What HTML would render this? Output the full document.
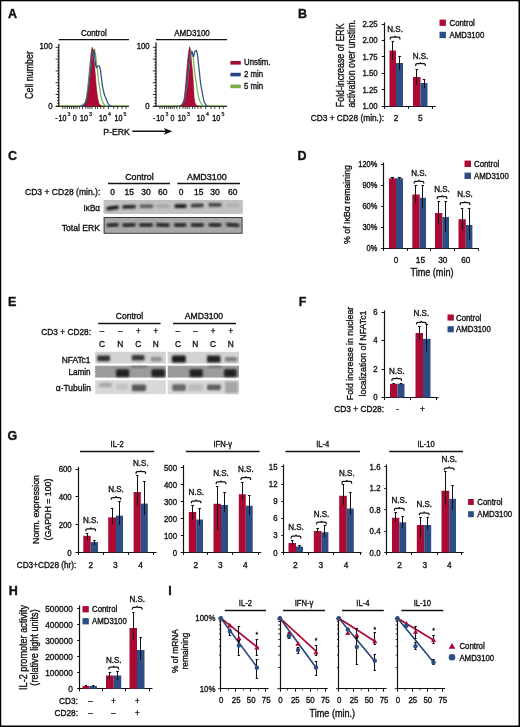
<!DOCTYPE html>
<html><head><meta charset="utf-8"><style>
html,body{margin:0;padding:0;background:#fff;}
svg{display:block;will-change:transform;font-family:"Liberation Sans",sans-serif;}
</style></head><body>
<svg width="520" height="727" viewBox="0 0 520 727">
<rect width="520" height="727" fill="#fff"/>
<rect x="0" y="0" width="520" height="1.3" fill="#000"/>
<rect x="0" y="0" width="1.25" height="727" fill="#000"/>
<rect x="518.5" y="0" width="1.5" height="727" fill="#000"/>
<rect x="0" y="725.5" width="520" height="1.5" fill="#000"/>
<text x="0" y="0" font-size="12.50" text-anchor="start" font-weight="bold" fill="#111" stroke="#111" stroke-width="0.36" transform="translate(8.00 18.20)">A</text>
<text x="0" y="0" font-size="9.02" text-anchor="middle" font-weight="normal" fill="#111" stroke="#111" stroke-width="0.36" transform="translate(93.80 35.50) scale(0.89 1)">Control</text>
<line x1="58.80" y1="39.6" x2="129.00" y2="39.6" stroke="#111" stroke-width="1.3"/>
<line x1="58.80" y1="44" x2="58.80" y2="106.89999999999999" stroke="#111" stroke-width="1.2"/>
<line x1="55.60" y1="106.30" x2="58.80" y2="106.30" stroke="#111" stroke-width="0.9"/>
<line x1="57.10" y1="103.35" x2="58.80" y2="103.35" stroke="#111" stroke-width="0.9"/>
<line x1="57.10" y1="100.40" x2="58.80" y2="100.40" stroke="#111" stroke-width="0.9"/>
<line x1="57.10" y1="97.45" x2="58.80" y2="97.45" stroke="#111" stroke-width="0.9"/>
<line x1="55.60" y1="94.50" x2="58.80" y2="94.50" stroke="#111" stroke-width="0.9"/>
<line x1="57.10" y1="91.55" x2="58.80" y2="91.55" stroke="#111" stroke-width="0.9"/>
<line x1="57.10" y1="88.60" x2="58.80" y2="88.60" stroke="#111" stroke-width="0.9"/>
<line x1="57.10" y1="85.65" x2="58.80" y2="85.65" stroke="#111" stroke-width="0.9"/>
<line x1="55.60" y1="82.70" x2="58.80" y2="82.70" stroke="#111" stroke-width="0.9"/>
<line x1="57.10" y1="79.75" x2="58.80" y2="79.75" stroke="#111" stroke-width="0.9"/>
<line x1="57.10" y1="76.80" x2="58.80" y2="76.80" stroke="#111" stroke-width="0.9"/>
<line x1="57.10" y1="73.85" x2="58.80" y2="73.85" stroke="#111" stroke-width="0.9"/>
<line x1="55.60" y1="70.90" x2="58.80" y2="70.90" stroke="#111" stroke-width="0.9"/>
<line x1="57.10" y1="67.95" x2="58.80" y2="67.95" stroke="#111" stroke-width="0.9"/>
<line x1="57.10" y1="65.00" x2="58.80" y2="65.00" stroke="#111" stroke-width="0.9"/>
<line x1="57.10" y1="62.05" x2="58.80" y2="62.05" stroke="#111" stroke-width="0.9"/>
<line x1="55.60" y1="59.10" x2="58.80" y2="59.10" stroke="#111" stroke-width="0.9"/>
<line x1="57.10" y1="56.15" x2="58.80" y2="56.15" stroke="#111" stroke-width="0.9"/>
<line x1="57.10" y1="53.20" x2="58.80" y2="53.20" stroke="#111" stroke-width="0.9"/>
<line x1="57.10" y1="50.25" x2="58.80" y2="50.25" stroke="#111" stroke-width="0.9"/>
<line x1="55.60" y1="47.30" x2="58.80" y2="47.30" stroke="#111" stroke-width="0.9"/>
<text x="0" y="0" font-size="8.80" text-anchor="end" font-weight="normal" fill="#111" stroke="#111" stroke-width="0.36" transform="translate(52.50 49.40) scale(0.89 1)">100</text>
<text x="0" y="0" font-size="8.80" text-anchor="end" font-weight="normal" fill="#111" stroke="#111" stroke-width="0.36" transform="translate(52.50 108.60) scale(0.89 1)">0</text>
<line x1="55.80" y1="106.3" x2="129.00" y2="106.3" stroke="#222" stroke-width="1.2"/>
<line x1="60" y1="105.7" x2="129" y2="105.7" stroke="#7bb54a" stroke-width="0.9"/><path d="M80.00,106.30 L83.00,105.80 L85.00,104.00 L86.20,100.00 L87.30,92.00 L88.50,80.00 L89.70,67.00 L90.80,56.00 L91.60,50.00 L92.30,47.30 L93.00,49.50 L93.60,55.00 L94.40,64.00 L95.30,75.00 L96.20,86.00 L97.20,95.00 L98.00,100.00 L99.00,103.50 L100.50,105.50 L102.50,106.30 Z" fill="#ac0a34"/><path d="M80.00,106.30 L83.00,105.80 L85.00,104.00 L86.20,100.00 L87.30,92.00 L88.50,80.00 L89.70,67.00 L90.80,56.00 L91.60,50.00 L92.30,47.30 L93.00,49.50 L93.60,55.00 L94.40,64.00 L95.30,75.00 L96.20,86.00 L97.20,95.00 L98.00,100.00 L99.00,103.50 L100.50,105.50 L102.50,106.30" fill="none" stroke="#8a0a26" stroke-width="0.6"/><path d="M79.00,106.30 L82.00,105.50 L85.00,103.00 L86.50,98.00 L88.00,88.00 L89.50,76.00 L91.00,64.00 L92.50,55.00 L93.60,50.50 L94.60,49.50 L95.50,54.00 L96.40,62.00 L97.40,70.00 L98.40,80.00 L99.30,86.00 L99.80,88.70 L100.80,95.00 L102.00,100.50 L103.00,102.70 L104.50,105.00 L107.00,106.30" fill="none" stroke="#7bb54a" stroke-width="1.25"/><path d="M80.00,106.30 L83.00,105.50 L85.50,103.00 L87.00,98.00 L88.50,88.00 L90.00,76.00 L91.30,64.00 L92.50,55.00 L93.30,51.00 L93.80,50.40 L94.40,53.00 L95.00,59.00 L95.60,65.00 L96.30,67.50 L97.20,66.50 L98.30,65.80 L99.30,66.00 L100.20,69.00 L101.00,74.00 L101.60,79.40 L102.30,85.00 L103.00,88.70 L104.00,93.00 L105.00,96.50 L105.80,98.00 L107.50,102.50 L109.60,105.50 L112.00,106.30" fill="none" stroke="#2d4e85" stroke-width="1.25"/>
<line x1="62.70" y1="106.3" x2="62.70" y2="108.90" stroke="#222" stroke-width="0.9"/>
<line x1="65.00" y1="106.3" x2="65.00" y2="108.90" stroke="#222" stroke-width="0.9"/>
<line x1="67.30" y1="106.3" x2="67.30" y2="108.90" stroke="#222" stroke-width="0.9"/>
<line x1="69.50" y1="106.3" x2="69.50" y2="108.90" stroke="#222" stroke-width="0.9"/>
<line x1="71.50" y1="106.3" x2="71.50" y2="108.90" stroke="#222" stroke-width="0.9"/>
<line x1="73.30" y1="106.3" x2="73.30" y2="108.90" stroke="#222" stroke-width="0.9"/>
<line x1="75.00" y1="106.3" x2="75.00" y2="108.90" stroke="#222" stroke-width="0.9"/>
<line x1="77.00" y1="106.3" x2="77.00" y2="108.90" stroke="#222" stroke-width="0.9"/>
<line x1="79.60" y1="106.3" x2="79.60" y2="108.90" stroke="#222" stroke-width="0.9"/>
<line x1="82.50" y1="106.3" x2="82.50" y2="108.90" stroke="#222" stroke-width="0.9"/>
<line x1="85.80" y1="106.3" x2="85.80" y2="108.90" stroke="#222" stroke-width="0.9"/>
<line x1="88.00" y1="106.3" x2="88.00" y2="108.90" stroke="#222" stroke-width="0.9"/>
<line x1="90.00" y1="106.3" x2="90.00" y2="108.90" stroke="#222" stroke-width="0.9"/>
<line x1="92.00" y1="106.3" x2="92.00" y2="108.90" stroke="#222" stroke-width="0.9"/>
<line x1="95.30" y1="106.3" x2="95.30" y2="108.90" stroke="#222" stroke-width="0.9"/>
<line x1="97.60" y1="106.3" x2="97.60" y2="108.90" stroke="#222" stroke-width="0.9"/>
<line x1="100.70" y1="106.3" x2="100.70" y2="108.90" stroke="#222" stroke-width="0.9"/>
<line x1="103.80" y1="106.3" x2="103.80" y2="108.90" stroke="#222" stroke-width="0.9"/>
<line x1="108.40" y1="106.3" x2="108.40" y2="108.90" stroke="#222" stroke-width="0.9"/>
<line x1="113.80" y1="106.3" x2="113.80" y2="108.90" stroke="#222" stroke-width="0.9"/>
<line x1="117.60" y1="106.3" x2="117.60" y2="108.90" stroke="#222" stroke-width="0.9"/>
<line x1="122.20" y1="106.3" x2="122.20" y2="108.90" stroke="#222" stroke-width="0.9"/>
<line x1="126.00" y1="106.3" x2="126.00" y2="108.90" stroke="#222" stroke-width="0.9"/>
<text x="0" y="0" font-size="8.7" fill="#111" stroke="#111" stroke-width="0.4" transform="translate(58.42 120.7) scale(0.82 1)">10</text>
<text x="0" y="0" font-size="5.8" fill="#111" stroke="#111" stroke-width="0.25" transform="translate(67.61 116.4) scale(0.9 1)">3</text>
<text x="0" y="0" font-size="8.7" fill="#111" stroke="#111" stroke-width="0.4" transform="translate(79.92 120.7) scale(0.82 1)">10</text>
<text x="0" y="0" font-size="5.8" fill="#111" stroke="#111" stroke-width="0.25" transform="translate(89.11 116.4) scale(0.9 1)">3</text>
<text x="0" y="0" font-size="8.7" fill="#111" stroke="#111" stroke-width="0.4" transform="translate(98.92 120.7) scale(0.82 1)">10</text>
<text x="0" y="0" font-size="5.8" fill="#111" stroke="#111" stroke-width="0.25" transform="translate(108.11 116.4) scale(0.9 1)">4</text>
<text x="0" y="0" font-size="8.7" fill="#111" stroke="#111" stroke-width="0.4" transform="translate(114.42 120.7) scale(0.82 1)">10</text>
<text x="0" y="0" font-size="5.8" fill="#111" stroke="#111" stroke-width="0.25" transform="translate(123.61 116.4) scale(0.9 1)">5</text>
<text x="0" y="0" font-size="8.50" text-anchor="start" font-weight="normal" fill="#111" stroke="#111" stroke-width="0.36" transform="translate(55.20 120.70) scale(0.83 1)">-</text>
<text x="0" y="0" font-size="8.50" text-anchor="start" font-weight="normal" fill="#111" stroke="#111" stroke-width="0.36" transform="translate(72.80 120.70) scale(0.83 1)">0</text>
<text x="0" y="0" font-size="9.02" text-anchor="middle" font-weight="normal" fill="#111" stroke="#111" stroke-width="0.36" transform="translate(192.00 35.50) scale(0.89 1)">AMD3100</text>
<line x1="156.00" y1="39.6" x2="227.00" y2="39.6" stroke="#111" stroke-width="1.3"/>
<line x1="156.00" y1="42.6" x2="156.00" y2="106.89999999999999" stroke="#111" stroke-width="1.2"/>
<line x1="152.80" y1="106.30" x2="156.00" y2="106.30" stroke="#111" stroke-width="0.9"/>
<line x1="154.30" y1="103.35" x2="156.00" y2="103.35" stroke="#111" stroke-width="0.9"/>
<line x1="154.30" y1="100.40" x2="156.00" y2="100.40" stroke="#111" stroke-width="0.9"/>
<line x1="154.30" y1="97.45" x2="156.00" y2="97.45" stroke="#111" stroke-width="0.9"/>
<line x1="152.80" y1="94.50" x2="156.00" y2="94.50" stroke="#111" stroke-width="0.9"/>
<line x1="154.30" y1="91.55" x2="156.00" y2="91.55" stroke="#111" stroke-width="0.9"/>
<line x1="154.30" y1="88.60" x2="156.00" y2="88.60" stroke="#111" stroke-width="0.9"/>
<line x1="154.30" y1="85.65" x2="156.00" y2="85.65" stroke="#111" stroke-width="0.9"/>
<line x1="152.80" y1="82.70" x2="156.00" y2="82.70" stroke="#111" stroke-width="0.9"/>
<line x1="154.30" y1="79.75" x2="156.00" y2="79.75" stroke="#111" stroke-width="0.9"/>
<line x1="154.30" y1="76.80" x2="156.00" y2="76.80" stroke="#111" stroke-width="0.9"/>
<line x1="154.30" y1="73.85" x2="156.00" y2="73.85" stroke="#111" stroke-width="0.9"/>
<line x1="152.80" y1="70.90" x2="156.00" y2="70.90" stroke="#111" stroke-width="0.9"/>
<line x1="154.30" y1="67.95" x2="156.00" y2="67.95" stroke="#111" stroke-width="0.9"/>
<line x1="154.30" y1="65.00" x2="156.00" y2="65.00" stroke="#111" stroke-width="0.9"/>
<line x1="154.30" y1="62.05" x2="156.00" y2="62.05" stroke="#111" stroke-width="0.9"/>
<line x1="152.80" y1="59.10" x2="156.00" y2="59.10" stroke="#111" stroke-width="0.9"/>
<line x1="154.30" y1="56.15" x2="156.00" y2="56.15" stroke="#111" stroke-width="0.9"/>
<line x1="154.30" y1="53.20" x2="156.00" y2="53.20" stroke="#111" stroke-width="0.9"/>
<line x1="154.30" y1="50.25" x2="156.00" y2="50.25" stroke="#111" stroke-width="0.9"/>
<line x1="152.80" y1="47.30" x2="156.00" y2="47.30" stroke="#111" stroke-width="0.9"/>
<text x="0" y="0" font-size="8.80" text-anchor="end" font-weight="normal" fill="#111" stroke="#111" stroke-width="0.36" transform="translate(149.70 49.40) scale(0.89 1)">100</text>
<text x="0" y="0" font-size="8.80" text-anchor="end" font-weight="normal" fill="#111" stroke="#111" stroke-width="0.36" transform="translate(149.70 108.60) scale(0.89 1)">0</text>
<line x1="153.00" y1="106.3" x2="227.00" y2="106.3" stroke="#222" stroke-width="1.2"/>
<line x1="157" y1="105.7" x2="227" y2="105.7" stroke="#7bb54a" stroke-width="0.9"/><path d="M177.00,106.30 L180.00,105.80 L182.00,104.50 L183.50,101.50 L184.30,98.00 L185.30,88.00 L186.20,78.00 L186.80,70.00 L187.70,60.00 L188.60,52.00 L189.60,46.70 L190.40,50.00 L191.20,58.00 L191.90,66.00 L192.40,70.00 L193.00,78.00 L193.60,88.00 L194.10,98.00 L195.00,103.00 L196.50,105.50 L198.50,106.30 Z" fill="#ac0a34"/><path d="M177.00,106.30 L180.00,105.80 L182.00,104.50 L183.50,101.50 L184.30,98.00 L185.30,88.00 L186.20,78.00 L186.80,70.00 L187.70,60.00 L188.60,52.00 L189.60,46.70 L190.40,50.00 L191.20,58.00 L191.90,66.00 L192.40,70.00 L193.00,78.00 L193.60,88.00 L194.10,98.00 L195.00,103.00 L196.50,105.50 L198.50,106.30" fill="none" stroke="#8a0a26" stroke-width="0.6"/><path d="M178.00,106.30 L181.00,105.50 L183.50,102.50 L185.00,97.00 L186.50,88.00 L188.00,76.00 L189.30,64.00 L190.50,55.00 L191.70,51.30 L192.60,54.00 L193.40,60.00 L194.50,70.00 L195.50,78.00 L196.40,84.00 L197.10,88.70 L198.00,94.00 L199.00,99.00 L200.00,101.50 L200.80,102.70 L202.50,105.20 L204.50,106.30" fill="none" stroke="#7bb54a" stroke-width="1.25"/><path d="M179.00,106.30 L182.00,105.00 L184.00,101.00 L185.50,94.00 L187.00,82.00 L188.50,68.00 L190.00,58.00 L191.20,53.00 L192.20,52.00 L193.00,55.00 L193.60,57.00 L194.40,53.00 L195.30,50.80 L196.20,50.50 L197.00,52.50 L197.80,57.00 L198.60,65.00 L199.40,72.00 L200.20,80.00 L201.00,86.00 L201.80,90.00 L202.80,96.00 L204.00,101.00 L205.20,104.00 L207.00,106.00 L209.00,106.30" fill="none" stroke="#2d4e85" stroke-width="1.25"/>
<line x1="159.90" y1="106.3" x2="159.90" y2="108.90" stroke="#222" stroke-width="0.9"/>
<line x1="162.20" y1="106.3" x2="162.20" y2="108.90" stroke="#222" stroke-width="0.9"/>
<line x1="164.50" y1="106.3" x2="164.50" y2="108.90" stroke="#222" stroke-width="0.9"/>
<line x1="166.70" y1="106.3" x2="166.70" y2="108.90" stroke="#222" stroke-width="0.9"/>
<line x1="168.70" y1="106.3" x2="168.70" y2="108.90" stroke="#222" stroke-width="0.9"/>
<line x1="170.50" y1="106.3" x2="170.50" y2="108.90" stroke="#222" stroke-width="0.9"/>
<line x1="172.20" y1="106.3" x2="172.20" y2="108.90" stroke="#222" stroke-width="0.9"/>
<line x1="174.20" y1="106.3" x2="174.20" y2="108.90" stroke="#222" stroke-width="0.9"/>
<line x1="176.80" y1="106.3" x2="176.80" y2="108.90" stroke="#222" stroke-width="0.9"/>
<line x1="179.70" y1="106.3" x2="179.70" y2="108.90" stroke="#222" stroke-width="0.9"/>
<line x1="183.00" y1="106.3" x2="183.00" y2="108.90" stroke="#222" stroke-width="0.9"/>
<line x1="185.20" y1="106.3" x2="185.20" y2="108.90" stroke="#222" stroke-width="0.9"/>
<line x1="187.20" y1="106.3" x2="187.20" y2="108.90" stroke="#222" stroke-width="0.9"/>
<line x1="189.20" y1="106.3" x2="189.20" y2="108.90" stroke="#222" stroke-width="0.9"/>
<line x1="192.50" y1="106.3" x2="192.50" y2="108.90" stroke="#222" stroke-width="0.9"/>
<line x1="194.80" y1="106.3" x2="194.80" y2="108.90" stroke="#222" stroke-width="0.9"/>
<line x1="197.90" y1="106.3" x2="197.90" y2="108.90" stroke="#222" stroke-width="0.9"/>
<line x1="201.00" y1="106.3" x2="201.00" y2="108.90" stroke="#222" stroke-width="0.9"/>
<line x1="205.60" y1="106.3" x2="205.60" y2="108.90" stroke="#222" stroke-width="0.9"/>
<line x1="211.00" y1="106.3" x2="211.00" y2="108.90" stroke="#222" stroke-width="0.9"/>
<line x1="214.80" y1="106.3" x2="214.80" y2="108.90" stroke="#222" stroke-width="0.9"/>
<line x1="219.40" y1="106.3" x2="219.40" y2="108.90" stroke="#222" stroke-width="0.9"/>
<line x1="223.20" y1="106.3" x2="223.20" y2="108.90" stroke="#222" stroke-width="0.9"/>
<text x="0" y="0" font-size="8.7" fill="#111" stroke="#111" stroke-width="0.4" transform="translate(156.22 120.7) scale(0.82 1)">10</text>
<text x="0" y="0" font-size="5.8" fill="#111" stroke="#111" stroke-width="0.25" transform="translate(165.41 116.4) scale(0.9 1)">3</text>
<text x="0" y="0" font-size="8.7" fill="#111" stroke="#111" stroke-width="0.4" transform="translate(177.72 120.7) scale(0.82 1)">10</text>
<text x="0" y="0" font-size="5.8" fill="#111" stroke="#111" stroke-width="0.25" transform="translate(186.91 116.4) scale(0.9 1)">3</text>
<text x="0" y="0" font-size="8.7" fill="#111" stroke="#111" stroke-width="0.4" transform="translate(196.72 120.7) scale(0.82 1)">10</text>
<text x="0" y="0" font-size="5.8" fill="#111" stroke="#111" stroke-width="0.25" transform="translate(205.91 116.4) scale(0.9 1)">4</text>
<text x="0" y="0" font-size="8.7" fill="#111" stroke="#111" stroke-width="0.4" transform="translate(212.22 120.7) scale(0.82 1)">10</text>
<text x="0" y="0" font-size="5.8" fill="#111" stroke="#111" stroke-width="0.25" transform="translate(221.41 116.4) scale(0.9 1)">5</text>
<text x="0" y="0" font-size="8.50" text-anchor="start" font-weight="normal" fill="#111" stroke="#111" stroke-width="0.36" transform="translate(153.00 120.70) scale(0.83 1)">-</text>
<text x="0" y="0" font-size="8.50" text-anchor="start" font-weight="normal" fill="#111" stroke="#111" stroke-width="0.36" transform="translate(170.60 120.70) scale(0.83 1)">0</text>
<text x="0" y="0" font-size="10.01" text-anchor="middle" font-weight="normal" fill="#111" stroke="#111" stroke-width="0.36" transform="translate(33.00 75.00) rotate(-90) scale(0.89 1)">Cell number</text>
<text x="0" y="0" font-size="9.79" text-anchor="start" font-weight="normal" fill="#111" stroke="#111" stroke-width="0.36" transform="translate(103.20 134.90) scale(0.89 1)">P-ERK</text>
<line x1="132.3" y1="131.3" x2="167" y2="131.3" stroke="#111" stroke-width="1.45"/>
<path d="M163.8,127.9 L172.3,131.3 L163.8,134.7 L165.8,131.3 Z" fill="#111"/>
<rect x="230.40" y="61.00" width="10.40" height="3.60" fill="#a00a30"/>
<text x="0" y="0" font-size="8.80" text-anchor="start" font-weight="normal" fill="#111" stroke="#111" stroke-width="0.36" transform="translate(244.00 65.20) scale(0.89 1)">Unstim.</text>
<rect x="230.40" y="72.80" width="10.40" height="3.60" fill="#274680"/>
<text x="0" y="0" font-size="8.80" text-anchor="start" font-weight="normal" fill="#111" stroke="#111" stroke-width="0.36" transform="translate(244.00 76.80) scale(0.89 1)">2 min</text>
<rect x="230.40" y="84.60" width="10.40" height="3.60" fill="#74ae45"/>
<text x="0" y="0" font-size="8.80" text-anchor="start" font-weight="normal" fill="#111" stroke="#111" stroke-width="0.36" transform="translate(244.00 88.60) scale(0.89 1)">5 min</text>
<text x="0" y="0" font-size="12.50" text-anchor="start" font-weight="bold" fill="#111" stroke="#111" stroke-width="0.36" transform="translate(298.00 18.20)">B</text>
<line x1="384.50" y1="22.50" x2="384.50" y2="107.00" stroke="#111" stroke-width="1.2"/>
<line x1="381.70" y1="106.50" x2="384.20" y2="106.50" stroke="#111" stroke-width="1"/>
<text x="0" y="0" font-size="8.80" text-anchor="end" font-weight="normal" fill="#111" stroke="#111" stroke-width="0.36" transform="translate(377.70 109.30) scale(0.89 1)">1.00</text>
<line x1="381.70" y1="89.50" x2="384.20" y2="89.50" stroke="#111" stroke-width="1"/>
<text x="0" y="0" font-size="8.80" text-anchor="end" font-weight="normal" fill="#111" stroke="#111" stroke-width="0.36" transform="translate(377.70 92.82) scale(0.89 1)">1.25</text>
<line x1="381.70" y1="73.50" x2="384.20" y2="73.50" stroke="#111" stroke-width="1"/>
<text x="0" y="0" font-size="8.80" text-anchor="end" font-weight="normal" fill="#111" stroke="#111" stroke-width="0.36" transform="translate(377.70 76.34) scale(0.89 1)">1.50</text>
<line x1="381.70" y1="56.50" x2="384.20" y2="56.50" stroke="#111" stroke-width="1"/>
<text x="0" y="0" font-size="8.80" text-anchor="end" font-weight="normal" fill="#111" stroke="#111" stroke-width="0.36" transform="translate(377.70 59.86) scale(0.89 1)">1.75</text>
<line x1="381.70" y1="40.50" x2="384.20" y2="40.50" stroke="#111" stroke-width="1"/>
<text x="0" y="0" font-size="8.80" text-anchor="end" font-weight="normal" fill="#111" stroke="#111" stroke-width="0.36" transform="translate(377.70 43.38) scale(0.89 1)">2.00</text>
<line x1="381.70" y1="24.50" x2="384.20" y2="24.50" stroke="#111" stroke-width="1"/>
<text x="0" y="0" font-size="8.80" text-anchor="end" font-weight="normal" fill="#111" stroke="#111" stroke-width="0.36" transform="translate(377.70 26.90) scale(0.89 1)">2.25</text>
<line x1="384.20" y1="106.50" x2="435.80" y2="106.50" stroke="#111" stroke-width="1.2"/>
<line x1="384.50" y1="106.40" x2="384.50" y2="108.90" stroke="#111" stroke-width="1"/>
<line x1="408.50" y1="106.40" x2="408.50" y2="108.90" stroke="#111" stroke-width="1"/>
<line x1="432.50" y1="106.40" x2="432.50" y2="108.90" stroke="#111" stroke-width="1"/>
<rect x="389.50" y="50.50" width="6.50" height="55.90" fill="#ac0a34"/>
<rect x="396.00" y="63.00" width="7.00" height="43.40" fill="#2d4e85"/>
<rect x="413.00" y="77.00" width="7.50" height="29.40" fill="#ac0a34"/>
<rect x="420.50" y="83.00" width="7.00" height="23.40" fill="#2d4e85"/>
<line x1="392.50" y1="41.30" x2="392.50" y2="60.00" stroke="#111" stroke-width="1"/>
<line x1="391.50" y1="41.50" x2="394.10" y2="41.50" stroke="#111" stroke-width="1.1"/>
<line x1="399.50" y1="56.00" x2="399.50" y2="70.00" stroke="#111" stroke-width="1"/>
<line x1="398.30" y1="56.50" x2="400.90" y2="56.50" stroke="#111" stroke-width="1.1"/>
<line x1="416.50" y1="69.80" x2="416.50" y2="85.00" stroke="#111" stroke-width="1"/>
<line x1="415.50" y1="69.50" x2="418.10" y2="69.50" stroke="#111" stroke-width="1.1"/>
<line x1="424.50" y1="79.50" x2="424.50" y2="88.00" stroke="#111" stroke-width="1"/>
<line x1="422.70" y1="79.50" x2="425.30" y2="79.50" stroke="#111" stroke-width="1.1"/>
<text x="0" y="0" font-size="8.58" text-anchor="middle" font-weight="normal" fill="#111" stroke="#111" stroke-width="0.36" transform="translate(395.10 31.60) scale(0.94 1)">N.S.</text>
<path d="M390.30,39.50 L390.30,38.60 Q390.30,37.20 391.60,37.20 L394.20,37.20 Q395.10,37.20 395.10,35.70 Q395.10,37.20 396.00,37.20 L398.60,37.20 Q399.90,37.20 399.90,38.60 L399.90,39.50" fill="none" stroke="#111" stroke-width="1.25"/>
<text x="0" y="0" font-size="8.58" text-anchor="middle" font-weight="normal" fill="#111" stroke="#111" stroke-width="0.36" transform="translate(420.50 58.60) scale(0.94 1)">N.S.</text>
<path d="M415.70,66.00 L415.70,65.10 Q415.70,63.70 417.00,63.70 L419.60,63.70 Q420.50,63.70 420.50,62.20 Q420.50,63.70 421.40,63.70 L424.00,63.70 Q425.30,63.70 425.30,65.10 L425.30,66.00" fill="none" stroke="#111" stroke-width="1.25"/>
<text x="0" y="0" font-size="11.52" text-anchor="middle" font-weight="normal" fill="#111" stroke="#111" stroke-width="0.36" transform="translate(344.30 65.30) rotate(-90) scale(0.765 1)">Fold-increase of ERK</text>
<text x="0" y="0" font-size="11.52" text-anchor="middle" font-weight="normal" fill="#111" stroke="#111" stroke-width="0.36" transform="translate(355.30 63.80) rotate(-90) scale(0.765 1)">activation over unstim.</text>
<text x="0" y="0" font-size="9.35" text-anchor="end" font-weight="normal" fill="#111" stroke="#111" stroke-width="0.36" transform="translate(384.00 120.50) scale(0.89 1)">CD3 + CD28 (min.):</text>
<text x="0" y="0" font-size="9.35" text-anchor="middle" font-weight="normal" fill="#111" stroke="#111" stroke-width="0.36" transform="translate(396.00 120.50) scale(0.89 1)">2</text>
<text x="0" y="0" font-size="9.35" text-anchor="middle" font-weight="normal" fill="#111" stroke="#111" stroke-width="0.36" transform="translate(420.30 120.50) scale(0.89 1)">5</text>
<rect x="439.50" y="19.60" width="6.40" height="6.30" fill="#ac0a34"/>
<text x="0" y="0" font-size="8.80" text-anchor="start" font-weight="normal" fill="#111" stroke="#111" stroke-width="0.36" transform="translate(449.50 26.00) scale(0.89 1)">Control</text>
<rect x="439.50" y="31.80" width="6.40" height="6.30" fill="#2d4e85"/>
<text x="0" y="0" font-size="8.80" text-anchor="start" font-weight="normal" fill="#111" stroke="#111" stroke-width="0.36" transform="translate(449.50 38.20) scale(0.89 1)">AMD3100</text>
<text x="0" y="0" font-size="12.50" text-anchor="start" font-weight="bold" fill="#111" stroke="#111" stroke-width="0.36" transform="translate(8.00 160.20)">C</text>
<text x="0" y="0" font-size="8.80" text-anchor="middle" font-weight="normal" fill="#111" stroke="#111" stroke-width="0.36" transform="translate(139.40 179.60)">Control</text>
<line x1="108.00" y1="183.50" x2="170.00" y2="183.50" stroke="#111" stroke-width="1.3"/>
<text x="0" y="0" font-size="8.95" text-anchor="middle" font-weight="normal" fill="#111" stroke="#111" stroke-width="0.36" transform="translate(206.80 179.60)">AMD3100</text>
<line x1="177.30" y1="183.50" x2="240.00" y2="183.50" stroke="#111" stroke-width="1.3"/>
<text x="0" y="0" font-size="9.62" text-anchor="end" font-weight="normal" fill="#111" stroke="#111" stroke-width="0.36" transform="translate(100.30 195.20) scale(0.89 1)">CD3 + CD28 (min.):</text>
<text x="0" y="0" font-size="8.50" text-anchor="middle" font-weight="normal" fill="#111" stroke="#111" stroke-width="0.36" transform="translate(112.50 194.80)">0</text>
<text x="0" y="0" font-size="8.50" text-anchor="middle" font-weight="normal" fill="#111" stroke="#111" stroke-width="0.36" transform="translate(129.30 194.80)">15</text>
<text x="0" y="0" font-size="8.50" text-anchor="middle" font-weight="normal" fill="#111" stroke="#111" stroke-width="0.36" transform="translate(145.90 194.80)">30</text>
<text x="0" y="0" font-size="8.50" text-anchor="middle" font-weight="normal" fill="#111" stroke="#111" stroke-width="0.36" transform="translate(162.80 194.80)">60</text>
<text x="0" y="0" font-size="8.50" text-anchor="middle" font-weight="normal" fill="#111" stroke="#111" stroke-width="0.36" transform="translate(181.00 194.80)">0</text>
<text x="0" y="0" font-size="8.50" text-anchor="middle" font-weight="normal" fill="#111" stroke="#111" stroke-width="0.36" transform="translate(198.80 194.80)">15</text>
<text x="0" y="0" font-size="8.50" text-anchor="middle" font-weight="normal" fill="#111" stroke="#111" stroke-width="0.36" transform="translate(215.10 194.80)">30</text>
<text x="0" y="0" font-size="8.50" text-anchor="middle" font-weight="normal" fill="#111" stroke="#111" stroke-width="0.36" transform="translate(232.80 194.80)">60</text>
<text x="0" y="0" font-size="9.13" text-anchor="end" font-weight="normal" fill="#111" stroke="#111" stroke-width="0.36" transform="translate(100.00 210.80) scale(0.89 1)">I&#954;B&#945;</text>
<text x="0" y="0" font-size="9.68" text-anchor="end" font-weight="normal" fill="#111" stroke="#111" stroke-width="0.36" transform="translate(100.00 230.80) scale(0.89 1)">Total ERK</text>
<defs><filter id="bl" x="-20%" y="-50%" width="140%" height="200%"><feGaussianBlur stdDeviation="0.55"/></filter><filter id="bl3" x="-20%" y="-50%" width="140%" height="200%"><feGaussianBlur stdDeviation="0.8"/></filter><filter id="bl2" x="-20%" y="-50%" width="140%" height="200%"><feGaussianBlur stdDeviation="1.1"/></filter></defs>
<rect x="103.60" y="200.20" width="139.10" height="13.50" fill="#b0b0b0"/>
<rect x="104.20" y="201.20" width="138.00" height="12.20" fill="#c2c2c2"/>
<rect x="106.50" y="206.00" width="12.30" height="3.80" rx="1.40" fill="#141414" filter="url(#bl3)" transform="rotate(-8 112.65 207.90)"/>
<rect x="122.30" y="205.00" width="13.50" height="3.60" rx="1.40" fill="#202020" filter="url(#bl3)" transform="rotate(-2 129.05 206.80)"/>
<rect x="139.50" y="204.40" width="13.80" height="3.60" rx="1.40" fill="#5a5a5a" filter="url(#bl3)"/>
<rect x="156.40" y="204.60" width="13.40" height="3.20" rx="1.40" fill="#a4a4a4" filter="url(#bl3)"/>
<rect x="174.60" y="204.20" width="11.90" height="3.80" rx="1.40" fill="#141414" filter="url(#bl3)"/>
<rect x="190.80" y="203.80" width="13.00" height="3.40" rx="1.40" fill="#333333" filter="url(#bl3)" transform="rotate(-2 197.30 205.50)"/>
<rect x="208.50" y="203.00" width="13.00" height="3.80" rx="1.40" fill="#444444" filter="url(#bl3)"/>
<rect x="226.20" y="203.90" width="13.40" height="3.20" rx="1.40" fill="#adadad" filter="url(#bl3)"/>
<rect x="103.60" y="217.00" width="139.00" height="16.80" fill="#3a3a3a"/>
<rect x="104.60" y="218.00" width="137.00" height="14.80" fill="#a7a7a7"/>
<rect x="106.50" y="223.50" width="12.30" height="3.00" rx="1.40" fill="#0c0c0c" filter="url(#bl3)" transform="rotate(-3 112.65 225.00)"/>
<rect x="122.30" y="223.50" width="13.50" height="3.00" rx="1.40" fill="#0c0c0c" filter="url(#bl3)" transform="rotate(-2 129.05 225.00)"/>
<rect x="139.00" y="223.50" width="14.00" height="3.00" rx="1.40" fill="#0c0c0c" filter="url(#bl3)"/>
<rect x="156.00" y="223.50" width="13.80" height="3.00" rx="1.40" fill="#0c0c0c" filter="url(#bl3)" transform="rotate(2 162.90 225.00)"/>
<rect x="174.00" y="223.50" width="12.50" height="3.00" rx="1.40" fill="#0c0c0c" filter="url(#bl3)"/>
<rect x="190.80" y="223.50" width="13.20" height="3.00" rx="1.40" fill="#0c0c0c" filter="url(#bl3)"/>
<rect x="208.50" y="223.50" width="13.00" height="3.00" rx="1.40" fill="#0c0c0c" filter="url(#bl3)"/>
<rect x="226.00" y="223.50" width="13.50" height="3.00" rx="1.40" fill="#0c0c0c" filter="url(#bl3)" transform="rotate(4 232.75 225.00)"/>
<text x="0" y="0" font-size="12.50" text-anchor="start" font-weight="bold" fill="#111" stroke="#111" stroke-width="0.36" transform="translate(297.50 160.20)">D</text>
<line x1="383.50" y1="162.50" x2="383.50" y2="249.00" stroke="#111" stroke-width="1.2"/>
<line x1="381.10" y1="248.50" x2="383.60" y2="248.50" stroke="#111" stroke-width="1"/>
<text x="0" y="0" font-size="8.36" text-anchor="end" font-weight="normal" fill="#111" stroke="#111" stroke-width="0.36" transform="translate(377.30 251.30) scale(0.89 1)">0%</text>
<line x1="381.10" y1="227.50" x2="383.60" y2="227.50" stroke="#111" stroke-width="1"/>
<text x="0" y="0" font-size="8.36" text-anchor="end" font-weight="normal" fill="#111" stroke="#111" stroke-width="0.36" transform="translate(377.30 230.20) scale(0.89 1)">30%</text>
<line x1="381.10" y1="206.50" x2="383.60" y2="206.50" stroke="#111" stroke-width="1"/>
<text x="0" y="0" font-size="8.36" text-anchor="end" font-weight="normal" fill="#111" stroke="#111" stroke-width="0.36" transform="translate(377.30 209.10) scale(0.89 1)">60%</text>
<line x1="381.10" y1="185.50" x2="383.60" y2="185.50" stroke="#111" stroke-width="1"/>
<text x="0" y="0" font-size="8.36" text-anchor="end" font-weight="normal" fill="#111" stroke="#111" stroke-width="0.36" transform="translate(377.30 188.00) scale(0.89 1)">90%</text>
<line x1="381.10" y1="164.50" x2="383.60" y2="164.50" stroke="#111" stroke-width="1"/>
<text x="0" y="0" font-size="8.36" text-anchor="end" font-weight="normal" fill="#111" stroke="#111" stroke-width="0.36" transform="translate(377.30 166.90) scale(0.89 1)">120%</text>
<line x1="383.60" y1="248.50" x2="479.00" y2="248.50" stroke="#111" stroke-width="1.2"/>
<line x1="383.50" y1="248.40" x2="383.50" y2="250.90" stroke="#111" stroke-width="1"/>
<line x1="407.50" y1="248.40" x2="407.50" y2="250.90" stroke="#111" stroke-width="1"/>
<line x1="430.50" y1="248.40" x2="430.50" y2="250.90" stroke="#111" stroke-width="1"/>
<line x1="454.50" y1="248.40" x2="454.50" y2="250.90" stroke="#111" stroke-width="1"/>
<line x1="478.50" y1="248.40" x2="478.50" y2="250.90" stroke="#111" stroke-width="1"/>
<rect x="389.00" y="178.30" width="7.00" height="70.10" fill="#ac0a34"/>
<rect x="396.00" y="178.30" width="7.00" height="70.10" fill="#2d4e85"/>
<line x1="392.50" y1="177.80" x2="392.50" y2="179.30" stroke="#111" stroke-width="1"/>
<line x1="390.60" y1="177.50" x2="394.00" y2="177.50" stroke="#111" stroke-width="1.1"/>
<line x1="399.50" y1="177.80" x2="399.50" y2="179.30" stroke="#111" stroke-width="1"/>
<line x1="397.80" y1="177.50" x2="401.20" y2="177.50" stroke="#111" stroke-width="1.1"/>
<rect x="412.30" y="194.50" width="7.40" height="53.90" fill="#ac0a34"/>
<rect x="419.70" y="197.80" width="6.30" height="50.60" fill="#2d4e85"/>
<rect x="435.00" y="213.00" width="7.30" height="35.40" fill="#ac0a34"/>
<rect x="442.30" y="217.00" width="6.70" height="31.40" fill="#2d4e85"/>
<rect x="458.50" y="219.20" width="7.30" height="29.20" fill="#ac0a34"/>
<rect x="465.80" y="225.00" width="6.60" height="23.40" fill="#2d4e85"/>
<line x1="415.50" y1="185.80" x2="415.50" y2="203.00" stroke="#111" stroke-width="1"/>
<line x1="414.50" y1="185.50" x2="417.10" y2="185.50" stroke="#111" stroke-width="1.1"/>
<line x1="422.50" y1="185.80" x2="422.50" y2="208.00" stroke="#111" stroke-width="1"/>
<line x1="421.50" y1="185.50" x2="424.10" y2="185.50" stroke="#111" stroke-width="1.1"/>
<line x1="438.50" y1="201.60" x2="438.50" y2="224.00" stroke="#111" stroke-width="1"/>
<line x1="437.50" y1="201.50" x2="440.10" y2="201.50" stroke="#111" stroke-width="1.1"/>
<line x1="445.50" y1="201.60" x2="445.50" y2="232.00" stroke="#111" stroke-width="1"/>
<line x1="444.40" y1="201.50" x2="447.00" y2="201.50" stroke="#111" stroke-width="1.1"/>
<line x1="462.50" y1="208.50" x2="462.50" y2="230.00" stroke="#111" stroke-width="1"/>
<line x1="460.70" y1="208.50" x2="463.30" y2="208.50" stroke="#111" stroke-width="1.1"/>
<line x1="469.50" y1="208.50" x2="469.50" y2="240.00" stroke="#111" stroke-width="1"/>
<line x1="467.70" y1="208.50" x2="470.30" y2="208.50" stroke="#111" stroke-width="1.1"/>
<text x="0" y="0" font-size="8.58" text-anchor="middle" font-weight="normal" fill="#111" stroke="#111" stroke-width="0.36" transform="translate(419.00 175.60) scale(0.94 1)">N.S.</text>
<path d="M414.20,183.60 L414.20,182.70 Q414.20,181.30 415.50,181.30 L418.10,181.30 Q419.00,181.30 419.00,179.80 Q419.00,181.30 419.90,181.30 L422.50,181.30 Q423.80,181.30 423.80,182.70 L423.80,183.60" fill="none" stroke="#111" stroke-width="1.25"/>
<text x="0" y="0" font-size="8.58" text-anchor="middle" font-weight="normal" fill="#111" stroke="#111" stroke-width="0.36" transform="translate(442.00 191.60) scale(0.94 1)">N.S.</text>
<path d="M437.20,199.00 L437.20,198.10 Q437.20,196.70 438.50,196.70 L441.10,196.70 Q442.00,196.70 442.00,195.20 Q442.00,196.70 442.90,196.70 L445.50,196.70 Q446.80,196.70 446.80,198.10 L446.80,199.00" fill="none" stroke="#111" stroke-width="1.25"/>
<text x="0" y="0" font-size="8.58" text-anchor="middle" font-weight="normal" fill="#111" stroke="#111" stroke-width="0.36" transform="translate(465.00 197.20) scale(0.94 1)">N.S.</text>
<path d="M460.20,205.00 L460.20,204.10 Q460.20,202.70 461.50,202.70 L464.10,202.70 Q465.00,202.70 465.00,201.20 Q465.00,202.70 465.90,202.70 L468.50,202.70 Q469.80,202.70 469.80,204.10 L469.80,205.00" fill="none" stroke="#111" stroke-width="1.25"/>
<text x="0" y="0" font-size="9.90" text-anchor="middle" font-weight="normal" fill="#111" stroke="#111" stroke-width="0.36" transform="translate(349.50 204.50) rotate(-90) scale(0.89 1)">% of I&#954;B&#945; remaining</text>
<text x="0" y="0" font-size="9.35" text-anchor="middle" font-weight="normal" fill="#111" stroke="#111" stroke-width="0.36" transform="translate(396.00 263.00) scale(0.89 1)">0</text>
<text x="0" y="0" font-size="9.35" text-anchor="middle" font-weight="normal" fill="#111" stroke="#111" stroke-width="0.36" transform="translate(420.50 263.00) scale(0.89 1)">15</text>
<text x="0" y="0" font-size="9.35" text-anchor="middle" font-weight="normal" fill="#111" stroke="#111" stroke-width="0.36" transform="translate(442.80 263.00) scale(0.89 1)">30</text>
<text x="0" y="0" font-size="9.35" text-anchor="middle" font-weight="normal" fill="#111" stroke="#111" stroke-width="0.36" transform="translate(465.80 263.00) scale(0.89 1)">60</text>
<text x="0" y="0" font-size="10.23" text-anchor="middle" font-weight="normal" fill="#111" stroke="#111" stroke-width="0.36" transform="translate(432.00 276.00) scale(0.89 1)">Time (min)</text>
<rect x="464.50" y="160.60" width="6.50" height="6.40" fill="#ac0a34"/>
<text x="0" y="0" font-size="8.80" text-anchor="start" font-weight="normal" fill="#111" stroke="#111" stroke-width="0.36" transform="translate(474.00 167.00) scale(0.89 1)">Control</text>
<rect x="464.50" y="172.60" width="6.50" height="6.40" fill="#2d4e85"/>
<text x="0" y="0" font-size="8.80" text-anchor="start" font-weight="normal" fill="#111" stroke="#111" stroke-width="0.36" transform="translate(474.00 179.00) scale(0.89 1)">AMD3100</text>
<text x="0" y="0" font-size="12.50" text-anchor="start" font-weight="bold" fill="#111" stroke="#111" stroke-width="0.36" transform="translate(8.00 306.20)">E</text>
<text x="0" y="0" font-size="8.50" text-anchor="middle" font-weight="normal" fill="#111" stroke="#111" stroke-width="0.36" transform="translate(129.50 318.60)">Control</text>
<line x1="98.20" y1="323.50" x2="160.60" y2="323.50" stroke="#111" stroke-width="1.3"/>
<text x="0" y="0" font-size="8.60" text-anchor="middle" font-weight="normal" fill="#111" stroke="#111" stroke-width="0.36" transform="translate(203.90 318.60)">AMD3100</text>
<line x1="173.00" y1="323.50" x2="236.00" y2="323.50" stroke="#111" stroke-width="1.3"/>
<text x="0" y="0" font-size="9.35" text-anchor="end" font-weight="normal" fill="#111" stroke="#111" stroke-width="0.36" transform="translate(91.00 334.50) scale(0.89 1)">CD3 + CD28:</text>
<text x="0" y="0" font-size="8.80" text-anchor="middle" font-weight="normal" fill="#111" stroke="#111" stroke-width="0.36" transform="translate(102.00 334.00) scale(0.89 1)">&#8211;</text>
<text x="0" y="0" font-size="8.80" text-anchor="middle" font-weight="normal" fill="#111" stroke="#111" stroke-width="0.36" transform="translate(120.30 334.00) scale(0.89 1)">&#8211;</text>
<text x="0" y="0" font-size="8.80" text-anchor="middle" font-weight="normal" fill="#111" stroke="#111" stroke-width="0.36" transform="translate(138.30 334.00) scale(0.89 1)">+</text>
<text x="0" y="0" font-size="8.80" text-anchor="middle" font-weight="normal" fill="#111" stroke="#111" stroke-width="0.36" transform="translate(155.80 334.00) scale(0.89 1)">+</text>
<text x="0" y="0" font-size="8.80" text-anchor="middle" font-weight="normal" fill="#111" stroke="#111" stroke-width="0.36" transform="translate(177.90 334.00) scale(0.89 1)">&#8211;</text>
<text x="0" y="0" font-size="8.80" text-anchor="middle" font-weight="normal" fill="#111" stroke="#111" stroke-width="0.36" transform="translate(195.30 334.00) scale(0.89 1)">&#8211;</text>
<text x="0" y="0" font-size="8.80" text-anchor="middle" font-weight="normal" fill="#111" stroke="#111" stroke-width="0.36" transform="translate(213.00 334.00) scale(0.89 1)">+</text>
<text x="0" y="0" font-size="8.80" text-anchor="middle" font-weight="normal" fill="#111" stroke="#111" stroke-width="0.36" transform="translate(230.70 334.00) scale(0.89 1)">+</text>
<text x="0" y="0" font-size="9.35" text-anchor="middle" font-weight="normal" fill="#111" stroke="#111" stroke-width="0.36" transform="translate(102.00 347.30) scale(0.89 1)">C</text>
<text x="0" y="0" font-size="9.35" text-anchor="middle" font-weight="normal" fill="#111" stroke="#111" stroke-width="0.36" transform="translate(120.30 347.30) scale(0.89 1)">N</text>
<text x="0" y="0" font-size="9.35" text-anchor="middle" font-weight="normal" fill="#111" stroke="#111" stroke-width="0.36" transform="translate(138.30 347.30) scale(0.89 1)">C</text>
<text x="0" y="0" font-size="9.35" text-anchor="middle" font-weight="normal" fill="#111" stroke="#111" stroke-width="0.36" transform="translate(155.80 347.30) scale(0.89 1)">N</text>
<text x="0" y="0" font-size="9.35" text-anchor="middle" font-weight="normal" fill="#111" stroke="#111" stroke-width="0.36" transform="translate(177.90 347.30) scale(0.89 1)">C</text>
<text x="0" y="0" font-size="9.35" text-anchor="middle" font-weight="normal" fill="#111" stroke="#111" stroke-width="0.36" transform="translate(195.30 347.30) scale(0.89 1)">N</text>
<text x="0" y="0" font-size="9.35" text-anchor="middle" font-weight="normal" fill="#111" stroke="#111" stroke-width="0.36" transform="translate(213.00 347.30) scale(0.89 1)">C</text>
<text x="0" y="0" font-size="9.35" text-anchor="middle" font-weight="normal" fill="#111" stroke="#111" stroke-width="0.36" transform="translate(230.70 347.30) scale(0.89 1)">N</text>
<text x="0" y="0" font-size="9.46" text-anchor="end" font-weight="normal" fill="#111" stroke="#111" stroke-width="0.36" transform="translate(90.50 362.60) scale(0.89 1)">NFATc1</text>
<text x="0" y="0" font-size="9.13" text-anchor="end" font-weight="normal" fill="#111" stroke="#111" stroke-width="0.36" transform="translate(90.50 374.60) scale(0.89 1)">Lamin</text>
<text x="0" y="0" font-size="9.57" text-anchor="end" font-weight="normal" fill="#111" stroke="#111" stroke-width="0.36" transform="translate(91.00 391.00) scale(0.89 1)">&#945;-Tubulin</text>
<rect x="95.20" y="351.80" width="70.60" height="11.70" fill="#d2d2d2"/>
<rect x="95.20" y="365.70" width="70.60" height="11.90" fill="#9c9c9c"/>
<rect x="95.20" y="380.30" width="70.60" height="13.90" fill="#d8d8d8"/>
<rect x="167.70" y="351.80" width="71.30" height="11.70" fill="#d2d2d2"/>
<rect x="167.70" y="365.70" width="71.30" height="11.90" fill="#9c9c9c"/>
<rect x="167.70" y="380.30" width="71.30" height="13.90" fill="#d8d8d8"/>
<rect x="97.20" y="355.60" width="12.80" height="5.60" rx="1.40" fill="#333333" filter="url(#bl3)"/>
<rect x="131.80" y="355.00" width="12.70" height="5.60" rx="1.40" fill="#383838" filter="url(#bl3)"/>
<rect x="151.00" y="356.80" width="10.80" height="4.80" rx="1.40" fill="#909090" filter="url(#bl2)"/>
<rect x="171.90" y="355.60" width="13.90" height="7.00" rx="1.40" fill="#1a1a1a" filter="url(#bl3)"/>
<rect x="207.00" y="355.60" width="13.50" height="7.00" rx="1.40" fill="#202020" filter="url(#bl3)"/>
<rect x="225.00" y="357.00" width="12.00" height="4.60" rx="1.40" fill="#7e7e7e" filter="url(#bl2)"/>
<rect x="116.00" y="369.30" width="13.20" height="7.80" rx="1.40" fill="#222222" filter="url(#bl3)"/>
<rect x="151.50" y="369.30" width="13.50" height="7.80" rx="1.40" fill="#222222" filter="url(#bl3)"/>
<rect x="189.60" y="369.30" width="13.10" height="7.80" rx="1.40" fill="#222222" filter="url(#bl3)"/>
<rect x="224.00" y="369.30" width="12.60" height="7.80" rx="1.40" fill="#222222" filter="url(#bl3)"/>
<rect x="131.00" y="366.00" width="16.00" height="1.50" rx="0.75" fill="#666" filter="url(#bl3)"/>
<rect x="208.00" y="366.00" width="14.00" height="1.50" rx="0.75" fill="#666" filter="url(#bl3)"/>
<rect x="99.20" y="382.80" width="12.60" height="4.40" rx="1.40" fill="#a8a8a8" filter="url(#bl2)"/>
<rect x="131.80" y="384.60" width="14.20" height="6.60" rx="1.40" fill="#585858" filter="url(#bl3)"/>
<rect x="172.30" y="384.20" width="13.50" height="6.80" rx="1.40" fill="#686868" filter="url(#bl2)"/>
<rect x="116.00" y="384.00" width="12.00" height="6.00" rx="1.40" fill="#c4c4c4" filter="url(#bl2)"/>
<rect x="188.00" y="384.00" width="15.50" height="7.00" rx="1.40" fill="#bdbdbd" filter="url(#bl2)"/>
<rect x="207.00" y="384.60" width="13.80" height="5.60" rx="1.40" fill="#5e5e5e" filter="url(#bl2)"/>
<rect x="225.00" y="381.50" width="13.00" height="11.50" rx="1.40" fill="#a6a6a6" filter="url(#bl2)"/>
<text x="0" y="0" font-size="12.50" text-anchor="start" font-weight="bold" fill="#111" stroke="#111" stroke-width="0.36" transform="translate(298.80 306.20)">F</text>
<line x1="384.50" y1="310.50" x2="384.50" y2="398.20" stroke="#111" stroke-width="1.2"/>
<line x1="381.50" y1="397.50" x2="384.00" y2="397.50" stroke="#111" stroke-width="1"/>
<text x="0" y="0" font-size="8.80" text-anchor="end" font-weight="normal" fill="#111" stroke="#111" stroke-width="0.36" transform="translate(377.50 400.10) scale(0.89 1)">0</text>
<line x1="381.50" y1="369.50" x2="384.00" y2="369.50" stroke="#111" stroke-width="1"/>
<text x="0" y="0" font-size="8.80" text-anchor="end" font-weight="normal" fill="#111" stroke="#111" stroke-width="0.36" transform="translate(377.50 371.73) scale(0.89 1)">2</text>
<line x1="381.50" y1="340.50" x2="384.00" y2="340.50" stroke="#111" stroke-width="1"/>
<text x="0" y="0" font-size="8.80" text-anchor="end" font-weight="normal" fill="#111" stroke="#111" stroke-width="0.36" transform="translate(377.50 343.36) scale(0.89 1)">4</text>
<line x1="381.50" y1="312.50" x2="384.00" y2="312.50" stroke="#111" stroke-width="1"/>
<text x="0" y="0" font-size="8.80" text-anchor="end" font-weight="normal" fill="#111" stroke="#111" stroke-width="0.36" transform="translate(377.50 314.99) scale(0.89 1)">6</text>
<line x1="384.00" y1="397.50" x2="438.50" y2="397.50" stroke="#111" stroke-width="1.2"/>
<line x1="384.50" y1="397.60" x2="384.50" y2="400.10" stroke="#111" stroke-width="1"/>
<line x1="410.50" y1="397.60" x2="410.50" y2="400.10" stroke="#111" stroke-width="1"/>
<line x1="436.50" y1="397.60" x2="436.50" y2="400.10" stroke="#111" stroke-width="1"/>
<rect x="390.00" y="383.80" width="7.50" height="13.80" fill="#ac0a34"/>
<rect x="397.50" y="383.80" width="7.00" height="13.80" fill="#2d4e85"/>
<rect x="415.50" y="333.00" width="7.50" height="64.60" fill="#ac0a34"/>
<rect x="423.00" y="338.80" width="7.50" height="58.80" fill="#2d4e85"/>
<line x1="393.50" y1="383.20" x2="393.50" y2="384.50" stroke="#111" stroke-width="1"/>
<line x1="392.40" y1="383.50" x2="395.00" y2="383.50" stroke="#111" stroke-width="1.1"/>
<line x1="401.50" y1="383.20" x2="401.50" y2="384.50" stroke="#111" stroke-width="1"/>
<line x1="399.70" y1="383.50" x2="402.30" y2="383.50" stroke="#111" stroke-width="1.1"/>
<line x1="419.50" y1="326.30" x2="419.50" y2="340.00" stroke="#111" stroke-width="1"/>
<line x1="418.00" y1="326.50" x2="420.60" y2="326.50" stroke="#111" stroke-width="1.1"/>
<line x1="426.50" y1="324.50" x2="426.50" y2="352.00" stroke="#111" stroke-width="1"/>
<line x1="425.50" y1="324.50" x2="428.10" y2="324.50" stroke="#111" stroke-width="1.1"/>
<text x="0" y="0" font-size="8.58" text-anchor="middle" font-weight="normal" fill="#111" stroke="#111" stroke-width="0.36" transform="translate(396.70 373.60) scale(0.94 1)">N.S.</text>
<path d="M391.90,381.00 L391.90,380.10 Q391.90,378.70 393.20,378.70 L395.80,378.70 Q396.70,378.70 396.70,377.20 Q396.70,378.70 397.60,378.70 L400.20,378.70 Q401.50,378.70 401.50,380.10 L401.50,381.00" fill="none" stroke="#111" stroke-width="1.25"/>
<text x="0" y="0" font-size="8.58" text-anchor="middle" font-weight="normal" fill="#111" stroke="#111" stroke-width="0.36" transform="translate(421.30 316.20) scale(0.94 1)">N.S.</text>
<path d="M416.50,324.60 L416.50,323.70 Q416.50,322.30 417.80,322.30 L420.40,322.30 Q421.30,322.30 421.30,320.80 Q421.30,322.30 422.20,322.30 L424.80,322.30 Q426.10,322.30 426.10,323.70 L426.10,324.60" fill="none" stroke="#111" stroke-width="1.25"/>
<text x="0" y="0" font-size="9.90" text-anchor="middle" font-weight="normal" fill="#111" stroke="#111" stroke-width="0.36" transform="translate(353.00 353.50) rotate(-90) scale(0.89 1)">Fold increase in nuclear</text>
<text x="0" y="0" font-size="9.90" text-anchor="middle" font-weight="normal" fill="#111" stroke="#111" stroke-width="0.36" transform="translate(365.70 353.50) rotate(-90) scale(0.89 1)">localization of NFATc1</text>
<text x="0" y="0" font-size="9.35" text-anchor="end" font-weight="normal" fill="#111" stroke="#111" stroke-width="0.36" transform="translate(384.00 412.00) scale(0.89 1)">CD3 + CD28:</text>
<text x="0" y="0" font-size="9.35" text-anchor="middle" font-weight="normal" fill="#111" stroke="#111" stroke-width="0.36" transform="translate(397.50 411.50) scale(0.89 1)">-</text>
<text x="0" y="0" font-size="9.35" text-anchor="middle" font-weight="normal" fill="#111" stroke="#111" stroke-width="0.36" transform="translate(422.50 411.50) scale(0.89 1)">+</text>
<rect x="447.50" y="314.50" width="6.30" height="6.10" fill="#ac0a34"/>
<text x="0" y="0" font-size="8.80" text-anchor="start" font-weight="normal" fill="#111" stroke="#111" stroke-width="0.36" transform="translate(456.00 320.60) scale(0.89 1)">Control</text>
<rect x="447.50" y="326.20" width="6.30" height="6.10" fill="#2d4e85"/>
<text x="0" y="0" font-size="8.80" text-anchor="start" font-weight="normal" fill="#111" stroke="#111" stroke-width="0.36" transform="translate(456.00 332.40) scale(0.89 1)">AMD3100</text>
<text x="0" y="0" font-size="12.50" text-anchor="start" font-weight="bold" fill="#111" stroke="#111" stroke-width="0.36" transform="translate(7.50 440.30)">G</text>
<text x="0" y="0" font-size="8.58" text-anchor="middle" font-weight="normal" fill="#111" stroke="#111" stroke-width="0.36" transform="translate(117.10 447.20) scale(0.89 1)">IL-2</text>
<line x1="80.00" y1="451.50" x2="154.20" y2="451.50" stroke="#111" stroke-width="1.3"/>
<line x1="78.50" y1="466.75" x2="78.50" y2="553.00" stroke="#111" stroke-width="1.2"/>
<line x1="75.50" y1="552.50" x2="78.00" y2="552.50" stroke="#111" stroke-width="1"/>
<text x="0" y="0" font-size="8.80" text-anchor="end" font-weight="normal" fill="#111" stroke="#111" stroke-width="0.36" transform="translate(71.70 555.50) scale(0.89 1)">0</text>
<line x1="75.50" y1="524.50" x2="78.00" y2="524.50" stroke="#111" stroke-width="1"/>
<text x="0" y="0" font-size="8.80" text-anchor="end" font-weight="normal" fill="#111" stroke="#111" stroke-width="0.36" transform="translate(71.70 527.75) scale(0.89 1)">200</text>
<line x1="75.50" y1="496.50" x2="78.00" y2="496.50" stroke="#111" stroke-width="1"/>
<text x="0" y="0" font-size="8.80" text-anchor="end" font-weight="normal" fill="#111" stroke="#111" stroke-width="0.36" transform="translate(71.70 500.00) scale(0.89 1)">400</text>
<line x1="75.50" y1="469.50" x2="78.00" y2="469.50" stroke="#111" stroke-width="1"/>
<text x="0" y="0" font-size="8.80" text-anchor="end" font-weight="normal" fill="#111" stroke="#111" stroke-width="0.36" transform="translate(71.70 472.25) scale(0.89 1)">600</text>
<line x1="78.00" y1="552.50" x2="156.50" y2="552.50" stroke="#111" stroke-width="1.2"/>
<line x1="78.50" y1="552.40" x2="78.50" y2="554.90" stroke="#111" stroke-width="1"/>
<line x1="103.50" y1="552.40" x2="103.50" y2="554.90" stroke="#111" stroke-width="1"/>
<line x1="128.50" y1="552.40" x2="128.50" y2="554.90" stroke="#111" stroke-width="1"/>
<line x1="153.50" y1="552.40" x2="153.50" y2="554.90" stroke="#111" stroke-width="1"/>
<rect x="83.30" y="535.80" width="7.40" height="16.60" fill="#ac0a34"/>
<rect x="90.70" y="542.10" width="7.30" height="10.30" fill="#2d4e85"/>
<line x1="87.50" y1="533.20" x2="87.50" y2="540.00" stroke="#111" stroke-width="1"/>
<line x1="85.70" y1="533.50" x2="88.30" y2="533.50" stroke="#111" stroke-width="1.1"/>
<line x1="94.50" y1="540.00" x2="94.50" y2="545.00" stroke="#111" stroke-width="1"/>
<line x1="93.05" y1="540.50" x2="95.65" y2="540.50" stroke="#111" stroke-width="1.1"/>
<text x="0" y="0" font-size="8.58" text-anchor="middle" font-weight="normal" fill="#111" stroke="#111" stroke-width="0.36" transform="translate(90.70 523.20) scale(0.94 1)">N.S.</text>
<path d="M85.90,531.20 L85.90,530.30 Q85.90,528.90 87.20,528.90 L89.80,528.90 Q90.70,528.90 90.70,527.40 Q90.70,528.90 91.60,528.90 L94.20,528.90 Q95.50,528.90 95.50,530.30 L95.50,531.20" fill="none" stroke="#111" stroke-width="1.25"/>
<rect x="108.20" y="517.40" width="7.80" height="35.00" fill="#ac0a34"/>
<rect x="116.00" y="515.70" width="7.00" height="36.70" fill="#2d4e85"/>
<line x1="112.50" y1="508.30" x2="112.50" y2="524.00" stroke="#111" stroke-width="1"/>
<line x1="110.80" y1="508.50" x2="113.40" y2="508.50" stroke="#111" stroke-width="1.1"/>
<line x1="119.50" y1="501.90" x2="119.50" y2="525.00" stroke="#111" stroke-width="1"/>
<line x1="118.20" y1="501.50" x2="120.80" y2="501.50" stroke="#111" stroke-width="1.1"/>
<text x="0" y="0" font-size="8.58" text-anchor="middle" font-weight="normal" fill="#111" stroke="#111" stroke-width="0.36" transform="translate(116.00 491.80) scale(0.94 1)">N.S.</text>
<path d="M111.20,499.80 L111.20,498.90 Q111.20,497.50 112.50,497.50 L115.10,497.50 Q116.00,497.50 116.00,496.00 Q116.00,497.50 116.90,497.50 L119.50,497.50 Q120.80,497.50 120.80,498.90 L120.80,499.80" fill="none" stroke="#111" stroke-width="1.25"/>
<rect x="133.60" y="492.00" width="7.20" height="60.40" fill="#ac0a34"/>
<rect x="140.80" y="503.60" width="7.00" height="48.80" fill="#2d4e85"/>
<line x1="137.50" y1="475.00" x2="137.50" y2="505.00" stroke="#111" stroke-width="1"/>
<line x1="135.90" y1="475.50" x2="138.50" y2="475.50" stroke="#111" stroke-width="1.1"/>
<line x1="144.50" y1="481.40" x2="144.50" y2="515.00" stroke="#111" stroke-width="1"/>
<line x1="143.00" y1="481.50" x2="145.60" y2="481.50" stroke="#111" stroke-width="1.1"/>
<text x="0" y="0" font-size="8.58" text-anchor="middle" font-weight="normal" fill="#111" stroke="#111" stroke-width="0.36" transform="translate(140.80 466.00) scale(0.94 1)">N.S.</text>
<path d="M136.00,474.00 L136.00,473.10 Q136.00,471.70 137.30,471.70 L139.90,471.70 Q140.80,471.70 140.80,470.20 Q140.80,471.70 141.70,471.70 L144.30,471.70 Q145.60,471.70 145.60,473.10 L145.60,474.00" fill="none" stroke="#111" stroke-width="1.25"/>
<text x="0" y="0" font-size="9.35" text-anchor="middle" font-weight="normal" fill="#111" stroke="#111" stroke-width="0.36" transform="translate(90.70 567.60) scale(0.89 1)">2</text>
<text x="0" y="0" font-size="9.35" text-anchor="middle" font-weight="normal" fill="#111" stroke="#111" stroke-width="0.36" transform="translate(115.20 567.60) scale(0.89 1)">3</text>
<text x="0" y="0" font-size="9.35" text-anchor="middle" font-weight="normal" fill="#111" stroke="#111" stroke-width="0.36" transform="translate(140.60 567.60) scale(0.89 1)">4</text>
<text x="0" y="0" font-size="8.58" text-anchor="middle" font-weight="normal" fill="#111" stroke="#111" stroke-width="0.36" transform="translate(222.70 447.20) scale(0.89 1)">IFN-&#947;</text>
<line x1="185.80" y1="451.50" x2="259.60" y2="451.50" stroke="#111" stroke-width="1.3"/>
<line x1="183.50" y1="465.00" x2="183.50" y2="553.00" stroke="#111" stroke-width="1.2"/>
<line x1="180.80" y1="552.50" x2="183.30" y2="552.50" stroke="#111" stroke-width="1"/>
<text x="0" y="0" font-size="8.80" text-anchor="end" font-weight="normal" fill="#111" stroke="#111" stroke-width="0.36" transform="translate(177.00 555.50) scale(0.89 1)">0</text>
<line x1="180.80" y1="535.50" x2="183.30" y2="535.50" stroke="#111" stroke-width="1"/>
<text x="0" y="0" font-size="8.80" text-anchor="end" font-weight="normal" fill="#111" stroke="#111" stroke-width="0.36" transform="translate(177.00 538.50) scale(0.89 1)">100</text>
<line x1="180.80" y1="518.50" x2="183.30" y2="518.50" stroke="#111" stroke-width="1"/>
<text x="0" y="0" font-size="8.80" text-anchor="end" font-weight="normal" fill="#111" stroke="#111" stroke-width="0.36" transform="translate(177.00 521.50) scale(0.89 1)">200</text>
<line x1="180.80" y1="501.50" x2="183.30" y2="501.50" stroke="#111" stroke-width="1"/>
<text x="0" y="0" font-size="8.80" text-anchor="end" font-weight="normal" fill="#111" stroke="#111" stroke-width="0.36" transform="translate(177.00 504.50) scale(0.89 1)">300</text>
<line x1="180.80" y1="484.50" x2="183.30" y2="484.50" stroke="#111" stroke-width="1"/>
<text x="0" y="0" font-size="8.80" text-anchor="end" font-weight="normal" fill="#111" stroke="#111" stroke-width="0.36" transform="translate(177.00 487.50) scale(0.89 1)">400</text>
<line x1="180.80" y1="467.50" x2="183.30" y2="467.50" stroke="#111" stroke-width="1"/>
<text x="0" y="0" font-size="8.80" text-anchor="end" font-weight="normal" fill="#111" stroke="#111" stroke-width="0.36" transform="translate(177.00 470.50) scale(0.89 1)">500</text>
<line x1="183.30" y1="552.50" x2="261.30" y2="552.50" stroke="#111" stroke-width="1.2"/>
<line x1="183.50" y1="552.40" x2="183.50" y2="554.90" stroke="#111" stroke-width="1"/>
<line x1="207.50" y1="552.40" x2="207.50" y2="554.90" stroke="#111" stroke-width="1"/>
<line x1="232.50" y1="552.40" x2="232.50" y2="554.90" stroke="#111" stroke-width="1"/>
<line x1="258.50" y1="552.40" x2="258.50" y2="554.90" stroke="#111" stroke-width="1"/>
<rect x="188.80" y="512.00" width="7.40" height="40.40" fill="#ac0a34"/>
<rect x="196.20" y="519.50" width="6.80" height="32.90" fill="#2d4e85"/>
<line x1="192.50" y1="505.00" x2="192.50" y2="520.00" stroke="#111" stroke-width="1"/>
<line x1="191.20" y1="505.50" x2="193.80" y2="505.50" stroke="#111" stroke-width="1.1"/>
<line x1="199.50" y1="508.50" x2="199.50" y2="525.00" stroke="#111" stroke-width="1"/>
<line x1="198.30" y1="508.50" x2="200.90" y2="508.50" stroke="#111" stroke-width="1.1"/>
<text x="0" y="0" font-size="8.58" text-anchor="middle" font-weight="normal" fill="#111" stroke="#111" stroke-width="0.36" transform="translate(196.20 495.30) scale(0.94 1)">N.S.</text>
<path d="M191.40,503.30 L191.40,502.40 Q191.40,501.00 192.70,501.00 L195.30,501.00 Q196.20,501.00 196.20,499.50 Q196.20,501.00 197.10,501.00 L199.70,501.00 Q201.00,501.00 201.00,502.40 L201.00,503.30" fill="none" stroke="#111" stroke-width="1.25"/>
<rect x="213.50" y="503.80" width="7.50" height="48.60" fill="#ac0a34"/>
<rect x="221.00" y="505.00" width="7.00" height="47.40" fill="#2d4e85"/>
<line x1="217.50" y1="486.00" x2="217.50" y2="530.00" stroke="#111" stroke-width="1"/>
<line x1="215.95" y1="486.50" x2="218.55" y2="486.50" stroke="#111" stroke-width="1.1"/>
<line x1="224.50" y1="492.30" x2="224.50" y2="512.00" stroke="#111" stroke-width="1"/>
<line x1="223.20" y1="492.50" x2="225.80" y2="492.50" stroke="#111" stroke-width="1.1"/>
<text x="0" y="0" font-size="8.58" text-anchor="middle" font-weight="normal" fill="#111" stroke="#111" stroke-width="0.36" transform="translate(221.00 476.20) scale(0.94 1)">N.S.</text>
<path d="M216.20,484.20 L216.20,483.30 Q216.20,481.90 217.50,481.90 L220.10,481.90 Q221.00,481.90 221.00,480.40 Q221.00,481.90 221.90,481.90 L224.50,481.90 Q225.80,481.90 225.80,483.30 L225.80,484.20" fill="none" stroke="#111" stroke-width="1.25"/>
<rect x="238.80" y="494.20" width="7.00" height="58.20" fill="#ac0a34"/>
<rect x="245.80" y="505.70" width="6.90" height="46.70" fill="#2d4e85"/>
<line x1="242.50" y1="482.60" x2="242.50" y2="500.00" stroke="#111" stroke-width="1"/>
<line x1="241.00" y1="482.50" x2="243.60" y2="482.50" stroke="#111" stroke-width="1.1"/>
<line x1="249.50" y1="495.00" x2="249.50" y2="515.00" stroke="#111" stroke-width="1"/>
<line x1="247.95" y1="495.50" x2="250.55" y2="495.50" stroke="#111" stroke-width="1.1"/>
<text x="0" y="0" font-size="8.58" text-anchor="middle" font-weight="normal" fill="#111" stroke="#111" stroke-width="0.36" transform="translate(245.80 472.00) scale(0.94 1)">N.S.</text>
<path d="M241.00,480.00 L241.00,479.10 Q241.00,477.70 242.30,477.70 L244.90,477.70 Q245.80,477.70 245.80,476.20 Q245.80,477.70 246.70,477.70 L249.30,477.70 Q250.60,477.70 250.60,479.10 L250.60,480.00" fill="none" stroke="#111" stroke-width="1.25"/>
<text x="0" y="0" font-size="9.35" text-anchor="middle" font-weight="normal" fill="#111" stroke="#111" stroke-width="0.36" transform="translate(195.70 567.60) scale(0.89 1)">2</text>
<text x="0" y="0" font-size="9.35" text-anchor="middle" font-weight="normal" fill="#111" stroke="#111" stroke-width="0.36" transform="translate(220.40 567.60) scale(0.89 1)">3</text>
<text x="0" y="0" font-size="9.35" text-anchor="middle" font-weight="normal" fill="#111" stroke="#111" stroke-width="0.36" transform="translate(245.20 567.60) scale(0.89 1)">4</text>
<text x="0" y="0" font-size="8.58" text-anchor="middle" font-weight="normal" fill="#111" stroke="#111" stroke-width="0.36" transform="translate(322.75 447.20) scale(0.89 1)">IL-4</text>
<line x1="285.50" y1="451.50" x2="360.00" y2="451.50" stroke="#111" stroke-width="1.3"/>
<line x1="283.50" y1="464.50" x2="283.50" y2="553.00" stroke="#111" stroke-width="1.2"/>
<line x1="281.30" y1="552.50" x2="283.80" y2="552.50" stroke="#111" stroke-width="1"/>
<text x="0" y="0" font-size="8.80" text-anchor="end" font-weight="normal" fill="#111" stroke="#111" stroke-width="0.36" transform="translate(277.50 555.50) scale(0.89 1)">0</text>
<line x1="281.30" y1="535.50" x2="283.80" y2="535.50" stroke="#111" stroke-width="1"/>
<text x="0" y="0" font-size="8.80" text-anchor="end" font-weight="normal" fill="#111" stroke="#111" stroke-width="0.36" transform="translate(277.50 538.40) scale(0.89 1)">3</text>
<line x1="281.30" y1="518.50" x2="283.80" y2="518.50" stroke="#111" stroke-width="1"/>
<text x="0" y="0" font-size="8.80" text-anchor="end" font-weight="normal" fill="#111" stroke="#111" stroke-width="0.36" transform="translate(277.50 521.30) scale(0.89 1)">6</text>
<line x1="281.30" y1="501.50" x2="283.80" y2="501.50" stroke="#111" stroke-width="1"/>
<text x="0" y="0" font-size="8.80" text-anchor="end" font-weight="normal" fill="#111" stroke="#111" stroke-width="0.36" transform="translate(277.50 504.20) scale(0.89 1)">9</text>
<line x1="281.30" y1="484.50" x2="283.80" y2="484.50" stroke="#111" stroke-width="1"/>
<text x="0" y="0" font-size="8.80" text-anchor="end" font-weight="normal" fill="#111" stroke="#111" stroke-width="0.36" transform="translate(277.50 487.10) scale(0.89 1)">12</text>
<line x1="281.30" y1="466.50" x2="283.80" y2="466.50" stroke="#111" stroke-width="1"/>
<text x="0" y="0" font-size="8.80" text-anchor="end" font-weight="normal" fill="#111" stroke="#111" stroke-width="0.36" transform="translate(277.50 470.00) scale(0.89 1)">15</text>
<line x1="283.80" y1="552.50" x2="361.70" y2="552.50" stroke="#111" stroke-width="1.2"/>
<line x1="283.50" y1="552.40" x2="283.50" y2="554.90" stroke="#111" stroke-width="1"/>
<line x1="308.50" y1="552.40" x2="308.50" y2="554.90" stroke="#111" stroke-width="1"/>
<line x1="333.50" y1="552.40" x2="333.50" y2="554.90" stroke="#111" stroke-width="1"/>
<line x1="360.50" y1="552.40" x2="360.50" y2="554.90" stroke="#111" stroke-width="1"/>
<rect x="288.50" y="543.00" width="7.50" height="9.40" fill="#ac0a34"/>
<rect x="296.00" y="546.50" width="7.00" height="5.90" fill="#2d4e85"/>
<line x1="292.50" y1="540.30" x2="292.50" y2="545.00" stroke="#111" stroke-width="1"/>
<line x1="290.95" y1="540.50" x2="293.55" y2="540.50" stroke="#111" stroke-width="1.1"/>
<line x1="299.50" y1="545.40" x2="299.50" y2="548.00" stroke="#111" stroke-width="1"/>
<line x1="298.20" y1="545.50" x2="300.80" y2="545.50" stroke="#111" stroke-width="1.1"/>
<text x="0" y="0" font-size="8.58" text-anchor="middle" font-weight="normal" fill="#111" stroke="#111" stroke-width="0.36" transform="translate(296.00 530.40) scale(0.94 1)">N.S.</text>
<path d="M291.20,538.40 L291.20,537.50 Q291.20,536.10 292.50,536.10 L295.10,536.10 Q296.00,536.10 296.00,534.60 Q296.00,536.10 296.90,536.10 L299.50,536.10 Q300.80,536.10 300.80,537.50 L300.80,538.40" fill="none" stroke="#111" stroke-width="1.25"/>
<rect x="313.80" y="531.00" width="7.70" height="21.40" fill="#ac0a34"/>
<rect x="321.50" y="532.20" width="6.90" height="20.20" fill="#2d4e85"/>
<line x1="317.50" y1="528.00" x2="317.50" y2="533.00" stroke="#111" stroke-width="1"/>
<line x1="316.35" y1="528.50" x2="318.95" y2="528.50" stroke="#111" stroke-width="1.1"/>
<line x1="324.50" y1="525.80" x2="324.50" y2="537.00" stroke="#111" stroke-width="1"/>
<line x1="323.65" y1="525.50" x2="326.25" y2="525.50" stroke="#111" stroke-width="1.1"/>
<text x="0" y="0" font-size="8.58" text-anchor="middle" font-weight="normal" fill="#111" stroke="#111" stroke-width="0.36" transform="translate(321.50 516.50) scale(0.94 1)">N.S.</text>
<path d="M316.70,524.50 L316.70,523.60 Q316.70,522.20 318.00,522.20 L320.60,522.20 Q321.50,522.20 321.50,520.70 Q321.50,522.20 322.40,522.20 L325.00,522.20 Q326.30,522.20 326.30,523.60 L326.30,524.50" fill="none" stroke="#111" stroke-width="1.25"/>
<rect x="339.20" y="495.80" width="7.60" height="56.60" fill="#ac0a34"/>
<rect x="346.80" y="508.50" width="7.00" height="43.90" fill="#2d4e85"/>
<line x1="343.50" y1="484.20" x2="343.50" y2="505.00" stroke="#111" stroke-width="1"/>
<line x1="341.70" y1="484.50" x2="344.30" y2="484.50" stroke="#111" stroke-width="1.1"/>
<line x1="350.50" y1="492.80" x2="350.50" y2="515.00" stroke="#111" stroke-width="1"/>
<line x1="349.00" y1="492.50" x2="351.60" y2="492.50" stroke="#111" stroke-width="1.1"/>
<text x="0" y="0" font-size="8.58" text-anchor="middle" font-weight="normal" fill="#111" stroke="#111" stroke-width="0.36" transform="translate(346.80 475.70) scale(0.94 1)">N.S.</text>
<path d="M342.00,483.70 L342.00,482.80 Q342.00,481.40 343.30,481.40 L345.90,481.40 Q346.80,481.40 346.80,479.90 Q346.80,481.40 347.70,481.40 L350.30,481.40 Q351.60,481.40 351.60,482.80 L351.60,483.70" fill="none" stroke="#111" stroke-width="1.25"/>
<text x="0" y="0" font-size="9.35" text-anchor="middle" font-weight="normal" fill="#111" stroke="#111" stroke-width="0.36" transform="translate(295.30 567.60) scale(0.89 1)">2</text>
<text x="0" y="0" font-size="9.35" text-anchor="middle" font-weight="normal" fill="#111" stroke="#111" stroke-width="0.36" transform="translate(320.70 567.60) scale(0.89 1)">3</text>
<text x="0" y="0" font-size="9.35" text-anchor="middle" font-weight="normal" fill="#111" stroke="#111" stroke-width="0.36" transform="translate(346.10 567.60) scale(0.89 1)">4</text>
<text x="0" y="0" font-size="8.58" text-anchor="middle" font-weight="normal" fill="#111" stroke="#111" stroke-width="0.36" transform="translate(426.10 447.20) scale(0.89 1)">IL-10</text>
<line x1="389.20" y1="451.50" x2="463.00" y2="451.50" stroke="#111" stroke-width="1.3"/>
<line x1="386.50" y1="464.40" x2="386.50" y2="553.00" stroke="#111" stroke-width="1.2"/>
<line x1="384.30" y1="552.50" x2="386.80" y2="552.50" stroke="#111" stroke-width="1"/>
<text x="0" y="0" font-size="8.80" text-anchor="end" font-weight="normal" fill="#111" stroke="#111" stroke-width="0.36" transform="translate(380.50 555.50) scale(0.89 1)">0.0</text>
<line x1="384.30" y1="531.50" x2="386.80" y2="531.50" stroke="#111" stroke-width="1"/>
<text x="0" y="0" font-size="8.80" text-anchor="end" font-weight="normal" fill="#111" stroke="#111" stroke-width="0.36" transform="translate(380.50 534.10) scale(0.89 1)">0.4</text>
<line x1="384.30" y1="509.50" x2="386.80" y2="509.50" stroke="#111" stroke-width="1"/>
<text x="0" y="0" font-size="8.80" text-anchor="end" font-weight="normal" fill="#111" stroke="#111" stroke-width="0.36" transform="translate(380.50 512.70) scale(0.89 1)">0.8</text>
<line x1="384.30" y1="488.50" x2="386.80" y2="488.50" stroke="#111" stroke-width="1"/>
<text x="0" y="0" font-size="8.80" text-anchor="end" font-weight="normal" fill="#111" stroke="#111" stroke-width="0.36" transform="translate(380.50 491.30) scale(0.89 1)">1.2</text>
<line x1="384.30" y1="466.50" x2="386.80" y2="466.50" stroke="#111" stroke-width="1"/>
<text x="0" y="0" font-size="8.80" text-anchor="end" font-weight="normal" fill="#111" stroke="#111" stroke-width="0.36" transform="translate(380.50 469.90) scale(0.89 1)">1.6</text>
<line x1="386.80" y1="552.50" x2="463.60" y2="552.50" stroke="#111" stroke-width="1.2"/>
<line x1="386.50" y1="552.40" x2="386.50" y2="554.90" stroke="#111" stroke-width="1"/>
<line x1="411.50" y1="552.40" x2="411.50" y2="554.90" stroke="#111" stroke-width="1"/>
<line x1="437.50" y1="552.40" x2="437.50" y2="554.90" stroke="#111" stroke-width="1"/>
<line x1="461.50" y1="552.40" x2="461.50" y2="554.90" stroke="#111" stroke-width="1"/>
<rect x="392.00" y="517.70" width="7.30" height="34.70" fill="#ac0a34"/>
<rect x="399.30" y="522.30" width="6.90" height="30.10" fill="#2d4e85"/>
<line x1="395.50" y1="512.60" x2="395.50" y2="522.00" stroke="#111" stroke-width="1"/>
<line x1="394.35" y1="512.50" x2="396.95" y2="512.50" stroke="#111" stroke-width="1.1"/>
<line x1="402.50" y1="516.50" x2="402.50" y2="528.00" stroke="#111" stroke-width="1"/>
<line x1="401.45" y1="516.50" x2="404.05" y2="516.50" stroke="#111" stroke-width="1.1"/>
<text x="0" y="0" font-size="8.58" text-anchor="middle" font-weight="normal" fill="#111" stroke="#111" stroke-width="0.36" transform="translate(399.30 502.70) scale(0.94 1)">N.S.</text>
<path d="M394.50,510.70 L394.50,509.80 Q394.50,508.40 395.80,508.40 L398.40,508.40 Q399.30,508.40 399.30,506.90 Q399.30,508.40 400.20,508.40 L402.80,508.40 Q404.10,508.40 404.10,509.80 L404.10,510.70" fill="none" stroke="#111" stroke-width="1.25"/>
<rect x="416.80" y="525.00" width="7.40" height="27.40" fill="#ac0a34"/>
<rect x="424.20" y="525.00" width="7.00" height="27.40" fill="#2d4e85"/>
<line x1="420.50" y1="517.70" x2="420.50" y2="538.00" stroke="#111" stroke-width="1"/>
<line x1="419.20" y1="517.50" x2="421.80" y2="517.50" stroke="#111" stroke-width="1.1"/>
<line x1="427.50" y1="517.20" x2="427.50" y2="530.00" stroke="#111" stroke-width="1"/>
<line x1="426.40" y1="517.50" x2="429.00" y2="517.50" stroke="#111" stroke-width="1.1"/>
<text x="0" y="0" font-size="8.58" text-anchor="middle" font-weight="normal" fill="#111" stroke="#111" stroke-width="0.36" transform="translate(424.20 507.30) scale(0.94 1)">N.S.</text>
<path d="M419.40,515.30 L419.40,514.40 Q419.40,513.00 420.70,513.00 L423.30,513.00 Q424.20,513.00 424.20,511.50 Q424.20,513.00 425.10,513.00 L427.70,513.00 Q429.00,513.00 429.00,514.40 L429.00,515.30" fill="none" stroke="#111" stroke-width="1.25"/>
<rect x="441.50" y="490.70" width="7.70" height="61.70" fill="#ac0a34"/>
<rect x="449.20" y="498.80" width="6.80" height="53.60" fill="#2d4e85"/>
<line x1="445.50" y1="471.50" x2="445.50" y2="505.00" stroke="#111" stroke-width="1"/>
<line x1="444.05" y1="471.50" x2="446.65" y2="471.50" stroke="#111" stroke-width="1.1"/>
<line x1="452.50" y1="485.00" x2="452.50" y2="510.00" stroke="#111" stroke-width="1"/>
<line x1="451.30" y1="485.50" x2="453.90" y2="485.50" stroke="#111" stroke-width="1.1"/>
<text x="0" y="0" font-size="8.58" text-anchor="middle" font-weight="normal" fill="#111" stroke="#111" stroke-width="0.36" transform="translate(449.20 462.30) scale(0.94 1)">N.S.</text>
<path d="M444.40,470.30 L444.40,469.40 Q444.40,468.00 445.70,468.00 L448.30,468.00 Q449.20,468.00 449.20,466.50 Q449.20,468.00 450.10,468.00 L452.70,468.00 Q454.00,468.00 454.00,469.40 L454.00,470.30" fill="none" stroke="#111" stroke-width="1.25"/>
<text x="0" y="0" font-size="9.35" text-anchor="middle" font-weight="normal" fill="#111" stroke="#111" stroke-width="0.36" transform="translate(399.50 567.60) scale(0.89 1)">2</text>
<text x="0" y="0" font-size="9.35" text-anchor="middle" font-weight="normal" fill="#111" stroke="#111" stroke-width="0.36" transform="translate(424.70 567.60) scale(0.89 1)">3</text>
<text x="0" y="0" font-size="9.35" text-anchor="middle" font-weight="normal" fill="#111" stroke="#111" stroke-width="0.36" transform="translate(449.40 567.60) scale(0.89 1)">4</text>
<text x="0" y="0" font-size="9.24" text-anchor="end" font-weight="normal" fill="#111" stroke="#111" stroke-width="0.36" transform="translate(76.30 567.60) scale(0.89 1)">CD3+CD28 (hr):</text>
<text x="0" y="0" font-size="9.90" text-anchor="middle" font-weight="normal" fill="#111" stroke="#111" stroke-width="0.36" transform="translate(39.00 509.50) rotate(-90) scale(0.89 1)">Norm. expression</text>
<text x="0" y="0" font-size="9.90" text-anchor="middle" font-weight="normal" fill="#111" stroke="#111" stroke-width="0.36" transform="translate(51.00 509.50) rotate(-90) scale(0.89 1)">(GAPDH = 100)</text>
<rect x="468.10" y="499.00" width="5.70" height="6.00" fill="#ac0a34"/>
<text x="0" y="0" font-size="8.80" text-anchor="start" font-weight="normal" fill="#111" stroke="#111" stroke-width="0.36" transform="translate(477.30 505.20) scale(0.89 1)">Control</text>
<rect x="468.10" y="511.20" width="5.70" height="6.00" fill="#2d4e85"/>
<text x="0" y="0" font-size="8.80" text-anchor="start" font-weight="normal" fill="#111" stroke="#111" stroke-width="0.36" transform="translate(477.30 517.20) scale(0.89 1)">AMD3100</text>
<text x="0" y="0" font-size="12.50" text-anchor="start" font-weight="bold" fill="#111" stroke="#111" stroke-width="0.36" transform="translate(8.70 595.30)">H</text>
<line x1="79.50" y1="605.50" x2="79.50" y2="689.40" stroke="#111" stroke-width="1.2"/>
<line x1="77.10" y1="688.50" x2="79.60" y2="688.50" stroke="#111" stroke-width="1"/>
<text x="0" y="0" font-size="9.35" text-anchor="end" font-weight="normal" fill="#111" stroke="#111" stroke-width="0.36" transform="translate(73.00 691.80) scale(0.89 1)">0</text>
<line x1="77.10" y1="672.50" x2="79.60" y2="672.50" stroke="#111" stroke-width="1"/>
<text x="0" y="0" font-size="9.35" text-anchor="end" font-weight="normal" fill="#111" stroke="#111" stroke-width="0.36" transform="translate(73.00 675.75) scale(0.89 1)">100000</text>
<line x1="77.10" y1="656.50" x2="79.60" y2="656.50" stroke="#111" stroke-width="1"/>
<text x="0" y="0" font-size="9.35" text-anchor="end" font-weight="normal" fill="#111" stroke="#111" stroke-width="0.36" transform="translate(73.00 659.70) scale(0.89 1)">200000</text>
<line x1="77.10" y1="640.50" x2="79.60" y2="640.50" stroke="#111" stroke-width="1"/>
<text x="0" y="0" font-size="9.35" text-anchor="end" font-weight="normal" fill="#111" stroke="#111" stroke-width="0.36" transform="translate(73.00 643.65) scale(0.89 1)">300000</text>
<line x1="77.10" y1="624.50" x2="79.60" y2="624.50" stroke="#111" stroke-width="1"/>
<text x="0" y="0" font-size="9.35" text-anchor="end" font-weight="normal" fill="#111" stroke="#111" stroke-width="0.36" transform="translate(73.00 627.60) scale(0.89 1)">400000</text>
<line x1="77.10" y1="608.50" x2="79.60" y2="608.50" stroke="#111" stroke-width="1"/>
<text x="0" y="0" font-size="9.35" text-anchor="end" font-weight="normal" fill="#111" stroke="#111" stroke-width="0.36" transform="translate(73.00 611.55) scale(0.89 1)">500000</text>
<line x1="79.60" y1="688.50" x2="152.50" y2="688.50" stroke="#111" stroke-width="1.2"/>
<line x1="79.50" y1="688.80" x2="79.50" y2="691.30" stroke="#111" stroke-width="1"/>
<line x1="102.50" y1="688.80" x2="102.50" y2="691.30" stroke="#111" stroke-width="1"/>
<line x1="125.50" y1="688.80" x2="125.50" y2="691.30" stroke="#111" stroke-width="1"/>
<line x1="149.50" y1="688.80" x2="149.50" y2="691.30" stroke="#111" stroke-width="1"/>
<rect x="82.50" y="686.00" width="7.00" height="2.80" fill="#ac0a34"/>
<rect x="89.50" y="686.00" width="7.50" height="2.80" fill="#2d4e85"/>
<rect x="106.00" y="675.50" width="7.75" height="13.30" fill="#ac0a34"/>
<rect x="113.75" y="675.50" width="7.50" height="13.30" fill="#2d4e85"/>
<rect x="129.50" y="628.00" width="7.50" height="60.80" fill="#ac0a34"/>
<rect x="137.00" y="650.00" width="7.50" height="38.80" fill="#2d4e85"/>
<line x1="86.50" y1="685.60" x2="86.50" y2="687.00" stroke="#111" stroke-width="1"/>
<line x1="84.90" y1="685.50" x2="87.10" y2="685.50" stroke="#111" stroke-width="1.1"/>
<line x1="93.50" y1="685.20" x2="93.50" y2="687.00" stroke="#111" stroke-width="1"/>
<line x1="92.20" y1="685.50" x2="94.40" y2="685.50" stroke="#111" stroke-width="1.1"/>
<line x1="109.50" y1="672.50" x2="109.50" y2="680.00" stroke="#111" stroke-width="1"/>
<line x1="108.60" y1="672.50" x2="111.20" y2="672.50" stroke="#111" stroke-width="1.1"/>
<line x1="117.50" y1="671.00" x2="117.50" y2="680.00" stroke="#111" stroke-width="1"/>
<line x1="116.20" y1="671.50" x2="118.80" y2="671.50" stroke="#111" stroke-width="1.1"/>
<line x1="133.50" y1="612.00" x2="133.50" y2="640.00" stroke="#111" stroke-width="1"/>
<line x1="132.00" y1="612.50" x2="134.60" y2="612.50" stroke="#111" stroke-width="1.1"/>
<line x1="140.50" y1="637.50" x2="140.50" y2="660.00" stroke="#111" stroke-width="1"/>
<line x1="139.50" y1="637.50" x2="142.10" y2="637.50" stroke="#111" stroke-width="1.1"/>
<text x="0" y="0" font-size="8.58" text-anchor="middle" font-weight="normal" fill="#111" stroke="#111" stroke-width="0.36" transform="translate(113.70 662.50) scale(0.94 1)">N.S.</text>
<path d="M108.90,669.50 L108.90,668.60 Q108.90,667.20 110.20,667.20 L112.80,667.20 Q113.70,667.20 113.70,665.70 Q113.70,667.20 114.60,667.20 L117.20,667.20 Q118.50,667.20 118.50,668.60 L118.50,669.50" fill="none" stroke="#111" stroke-width="1.25"/>
<text x="0" y="0" font-size="8.58" text-anchor="middle" font-weight="normal" fill="#111" stroke="#111" stroke-width="0.36" transform="translate(137.20 602.00) scale(0.94 1)">N.S.</text>
<path d="M132.40,609.60 L132.40,608.70 Q132.40,607.30 133.70,607.30 L136.30,607.30 Q137.20,607.30 137.20,605.80 Q137.20,607.30 138.10,607.30 L140.70,607.30 Q142.00,607.30 142.00,608.70 L142.00,609.60" fill="none" stroke="#111" stroke-width="1.25"/>
<text x="0" y="0" font-size="10.23" text-anchor="middle" font-weight="normal" fill="#111" stroke="#111" stroke-width="0.36" transform="translate(26.50 647.50) rotate(-90) scale(0.89 1)">IL-2 promoter activity</text>
<text x="0" y="0" font-size="10.23" text-anchor="middle" font-weight="normal" fill="#111" stroke="#111" stroke-width="0.36" transform="translate(38.00 647.50) rotate(-90) scale(0.89 1)">(relative light units)</text>
<rect x="82.50" y="606.10" width="6.30" height="6.30" fill="#ac0a34"/>
<text x="0" y="0" font-size="8.80" text-anchor="start" font-weight="normal" fill="#111" stroke="#111" stroke-width="0.36" transform="translate(92.00 612.40) scale(0.89 1)">Control</text>
<rect x="82.50" y="618.10" width="6.30" height="6.30" fill="#2d4e85"/>
<text x="0" y="0" font-size="8.80" text-anchor="start" font-weight="normal" fill="#111" stroke="#111" stroke-width="0.36" transform="translate(92.00 624.40) scale(0.89 1)">AMD3100</text>
<text x="0" y="0" font-size="9.35" text-anchor="end" font-weight="normal" fill="#111" stroke="#111" stroke-width="0.36" transform="translate(78.00 704.00) scale(0.89 1)">CD3:</text>
<text x="0" y="0" font-size="9.35" text-anchor="end" font-weight="normal" fill="#111" stroke="#111" stroke-width="0.36" transform="translate(78.00 716.20) scale(0.89 1)">CD28:</text>
<text x="0" y="0" font-size="8.80" text-anchor="middle" font-weight="normal" fill="#111" stroke="#111" stroke-width="0.36" transform="translate(90.30 703.50) scale(0.89 1)">&#8211;</text>
<text x="0" y="0" font-size="8.80" text-anchor="middle" font-weight="normal" fill="#111" stroke="#111" stroke-width="0.36" transform="translate(113.50 703.50) scale(0.89 1)">+</text>
<text x="0" y="0" font-size="8.80" text-anchor="middle" font-weight="normal" fill="#111" stroke="#111" stroke-width="0.36" transform="translate(137.30 703.50) scale(0.89 1)">+</text>
<text x="0" y="0" font-size="8.80" text-anchor="middle" font-weight="normal" fill="#111" stroke="#111" stroke-width="0.36" transform="translate(90.30 715.80) scale(0.89 1)">&#8211;</text>
<text x="0" y="0" font-size="8.80" text-anchor="middle" font-weight="normal" fill="#111" stroke="#111" stroke-width="0.36" transform="translate(113.50 715.80) scale(0.89 1)">&#8211;</text>
<text x="0" y="0" font-size="8.80" text-anchor="middle" font-weight="normal" fill="#111" stroke="#111" stroke-width="0.36" transform="translate(137.30 715.80) scale(0.89 1)">+</text>
<text x="0" y="0" font-size="12.50" text-anchor="start" font-weight="bold" fill="#111" stroke="#111" stroke-width="0.36" transform="translate(168.20 594.80)">I</text>
<text x="0" y="0" font-size="8.58" text-anchor="middle" font-weight="normal" fill="#111" stroke="#111" stroke-width="0.36" transform="translate(245.40 606.20) scale(0.89 1)">IL-2</text>
<line x1="224.80" y1="610.50" x2="266.00" y2="610.50" stroke="#111" stroke-width="1.3"/>
<line x1="220.50" y1="616.70" x2="220.50" y2="689.30" stroke="#111" stroke-width="1.2"/>
<line x1="218.10" y1="688.70" x2="220.90" y2="688.70" stroke="#111" stroke-width="0.9"/>
<line x1="219.10" y1="667.48" x2="220.90" y2="667.48" stroke="#111" stroke-width="0.9"/>
<line x1="219.10" y1="655.06" x2="220.90" y2="655.06" stroke="#111" stroke-width="0.9"/>
<line x1="219.10" y1="646.25" x2="220.90" y2="646.25" stroke="#111" stroke-width="0.9"/>
<line x1="219.10" y1="639.42" x2="220.90" y2="639.42" stroke="#111" stroke-width="0.9"/>
<line x1="219.10" y1="633.84" x2="220.90" y2="633.84" stroke="#111" stroke-width="0.9"/>
<line x1="219.10" y1="629.12" x2="220.90" y2="629.12" stroke="#111" stroke-width="0.9"/>
<line x1="219.10" y1="625.03" x2="220.90" y2="625.03" stroke="#111" stroke-width="0.9"/>
<line x1="219.10" y1="621.43" x2="220.90" y2="621.43" stroke="#111" stroke-width="0.9"/>
<line x1="218.10" y1="618.20" x2="220.90" y2="618.20" stroke="#111" stroke-width="0.9"/>
<line x1="220.90" y1="688.50" x2="268.60" y2="688.50" stroke="#111" stroke-width="1.2"/>
<line x1="220.50" y1="688.70" x2="220.50" y2="691.70" stroke="#111" stroke-width="1"/>
<line x1="235.50" y1="688.70" x2="235.50" y2="691.70" stroke="#111" stroke-width="1"/>
<line x1="250.50" y1="688.70" x2="250.50" y2="691.70" stroke="#111" stroke-width="1"/>
<line x1="265.50" y1="688.70" x2="265.50" y2="691.70" stroke="#111" stroke-width="1"/>
<line x1="228.40" y1="688.70" x2="228.40" y2="690.40" stroke="#111" stroke-width="0.8"/>
<line x1="243.40" y1="688.70" x2="243.40" y2="690.40" stroke="#111" stroke-width="0.8"/>
<line x1="258.40" y1="688.70" x2="258.40" y2="690.40" stroke="#111" stroke-width="0.8"/>
<text x="0" y="0" font-size="8.80" text-anchor="middle" font-weight="normal" fill="#111" stroke="#111" stroke-width="0.36" transform="translate(221.20 703.00) scale(0.89 1)">0</text>
<text x="0" y="0" font-size="8.80" text-anchor="middle" font-weight="normal" fill="#111" stroke="#111" stroke-width="0.36" transform="translate(236.20 703.00) scale(0.89 1)">25</text>
<text x="0" y="0" font-size="8.80" text-anchor="middle" font-weight="normal" fill="#111" stroke="#111" stroke-width="0.36" transform="translate(251.20 703.00) scale(0.89 1)">50</text>
<text x="0" y="0" font-size="8.80" text-anchor="middle" font-weight="normal" fill="#111" stroke="#111" stroke-width="0.36" transform="translate(266.20 703.00) scale(0.89 1)">75</text>
<line x1="220.90" y1="618.20" x2="258.70" y2="648.23" stroke="#ac0a34" stroke-width="1.7"/>
<line x1="220.90" y1="618.20" x2="258.10" y2="668.57" stroke="#264478" stroke-width="1.6"/>
<line x1="229.50" y1="629.12" x2="229.50" y2="635.95" stroke="#111" stroke-width="1.1"/>
<line x1="228.60" y1="629.50" x2="231.20" y2="629.50" stroke="#111" stroke-width="1.1"/>
<line x1="238.50" y1="626.60" x2="238.50" y2="640.04" stroke="#111" stroke-width="1.1"/>
<line x1="237.60" y1="626.50" x2="240.20" y2="626.50" stroke="#111" stroke-width="1.1"/>
<line x1="256.50" y1="639.42" x2="256.50" y2="655.06" stroke="#111" stroke-width="1.1"/>
<line x1="255.60" y1="639.50" x2="258.20" y2="639.50" stroke="#111" stroke-width="1.1"/>
<line x1="238.50" y1="641.58" x2="238.50" y2="655.27" stroke="#111" stroke-width="1.1"/>
<line x1="237.60" y1="641.50" x2="240.20" y2="641.50" stroke="#111" stroke-width="1.1"/>
<line x1="256.50" y1="659.44" x2="256.50" y2="678.40" stroke="#111" stroke-width="1.1"/>
<line x1="255.60" y1="659.50" x2="258.20" y2="659.50" stroke="#111" stroke-width="1.1"/>
<line x1="237.70" y1="655.50" x2="240.10" y2="655.50" stroke="#111" stroke-width="1"/>
<line x1="255.70" y1="678.50" x2="258.10" y2="678.50" stroke="#111" stroke-width="1"/>
<line x1="228.70" y1="635.50" x2="231.10" y2="635.50" stroke="#111" stroke-width="1"/>
<line x1="237.70" y1="640.50" x2="240.10" y2="640.50" stroke="#111" stroke-width="1"/>
<line x1="255.70" y1="655.50" x2="258.10" y2="655.50" stroke="#111" stroke-width="1"/>
<path d="M218.30,620.20 L220.90,615.60 L223.50,620.20 Z" fill="#ac0a34"/>
<path d="M227.30,627.42 L229.90,622.82 L232.50,627.42 Z" fill="#ac0a34"/>
<path d="M236.30,640.22 L238.90,635.62 L241.50,640.22 Z" fill="#ac0a34"/>
<path d="M254.30,649.50 L256.90,644.90 L259.50,649.50 Z" fill="#ac0a34"/>
<circle cx="220.90" cy="618.20" r="2.2" fill="#2d4e85"/>
<circle cx="229.90" cy="631.39" r="2.2" fill="#2d4e85"/>
<circle cx="238.90" cy="645.50" r="2.2" fill="#2d4e85"/>
<circle cx="256.90" cy="667.63" r="2.2" fill="#2d4e85"/>
<text x="0" y="0" font-size="7.70" text-anchor="middle" font-weight="normal" fill="#111" stroke="#111" stroke-width="0.36" transform="translate(256.90 636.99) scale(0.89 1)">*</text>
<text x="0" y="0" font-size="8.80" text-anchor="end" font-weight="normal" fill="#111" stroke="#111" stroke-width="0.36" transform="translate(215.40 621.10) scale(0.89 1)">100%</text>
<text x="0" y="0" font-size="8.80" text-anchor="end" font-weight="normal" fill="#111" stroke="#111" stroke-width="0.36" transform="translate(215.40 691.60) scale(0.89 1)">10%</text>
<text x="0" y="0" font-size="8.58" text-anchor="middle" font-weight="normal" fill="#111" stroke="#111" stroke-width="0.36" transform="translate(304.00 606.20) scale(0.89 1)">IFN-&#947;</text>
<line x1="283.00" y1="610.50" x2="325.00" y2="610.50" stroke="#111" stroke-width="1.3"/>
<line x1="280.50" y1="616.70" x2="280.50" y2="689.30" stroke="#111" stroke-width="1.2"/>
<line x1="277.20" y1="688.70" x2="280.00" y2="688.70" stroke="#111" stroke-width="0.9"/>
<line x1="278.20" y1="667.48" x2="280.00" y2="667.48" stroke="#111" stroke-width="0.9"/>
<line x1="278.20" y1="655.06" x2="280.00" y2="655.06" stroke="#111" stroke-width="0.9"/>
<line x1="278.20" y1="646.25" x2="280.00" y2="646.25" stroke="#111" stroke-width="0.9"/>
<line x1="278.20" y1="639.42" x2="280.00" y2="639.42" stroke="#111" stroke-width="0.9"/>
<line x1="278.20" y1="633.84" x2="280.00" y2="633.84" stroke="#111" stroke-width="0.9"/>
<line x1="278.20" y1="629.12" x2="280.00" y2="629.12" stroke="#111" stroke-width="0.9"/>
<line x1="278.20" y1="625.03" x2="280.00" y2="625.03" stroke="#111" stroke-width="0.9"/>
<line x1="278.20" y1="621.43" x2="280.00" y2="621.43" stroke="#111" stroke-width="0.9"/>
<line x1="277.20" y1="618.20" x2="280.00" y2="618.20" stroke="#111" stroke-width="0.9"/>
<line x1="280.00" y1="688.50" x2="327.70" y2="688.50" stroke="#111" stroke-width="1.2"/>
<line x1="280.50" y1="688.70" x2="280.50" y2="691.70" stroke="#111" stroke-width="1"/>
<line x1="295.50" y1="688.70" x2="295.50" y2="691.70" stroke="#111" stroke-width="1"/>
<line x1="310.50" y1="688.70" x2="310.50" y2="691.70" stroke="#111" stroke-width="1"/>
<line x1="325.50" y1="688.70" x2="325.50" y2="691.70" stroke="#111" stroke-width="1"/>
<line x1="287.50" y1="688.70" x2="287.50" y2="690.40" stroke="#111" stroke-width="0.8"/>
<line x1="302.50" y1="688.70" x2="302.50" y2="690.40" stroke="#111" stroke-width="0.8"/>
<line x1="317.50" y1="688.70" x2="317.50" y2="690.40" stroke="#111" stroke-width="0.8"/>
<text x="0" y="0" font-size="8.80" text-anchor="middle" font-weight="normal" fill="#111" stroke="#111" stroke-width="0.36" transform="translate(280.30 703.00) scale(0.89 1)">0</text>
<text x="0" y="0" font-size="8.80" text-anchor="middle" font-weight="normal" fill="#111" stroke="#111" stroke-width="0.36" transform="translate(295.30 703.00) scale(0.89 1)">25</text>
<text x="0" y="0" font-size="8.80" text-anchor="middle" font-weight="normal" fill="#111" stroke="#111" stroke-width="0.36" transform="translate(310.30 703.00) scale(0.89 1)">50</text>
<text x="0" y="0" font-size="8.80" text-anchor="middle" font-weight="normal" fill="#111" stroke="#111" stroke-width="0.36" transform="translate(325.30 703.00) scale(0.89 1)">75</text>
<line x1="280.00" y1="618.20" x2="316.00" y2="651.23" stroke="#ac0a34" stroke-width="1.7"/>
<line x1="280.00" y1="618.20" x2="316.00" y2="667.48" stroke="#264478" stroke-width="1.6"/>
<line x1="289.50" y1="632.84" x2="289.50" y2="638.22" stroke="#111" stroke-width="1.1"/>
<line x1="287.70" y1="632.50" x2="290.30" y2="632.50" stroke="#111" stroke-width="1.1"/>
<line x1="316.50" y1="645.50" x2="316.50" y2="655.47" stroke="#111" stroke-width="1.1"/>
<line x1="314.70" y1="645.50" x2="317.30" y2="645.50" stroke="#111" stroke-width="1.1"/>
<line x1="289.50" y1="633.84" x2="289.50" y2="638.22" stroke="#111" stroke-width="1.1"/>
<line x1="287.70" y1="633.50" x2="290.30" y2="633.50" stroke="#111" stroke-width="1.1"/>
<line x1="298.50" y1="647.03" x2="298.50" y2="653.09" stroke="#111" stroke-width="1.1"/>
<line x1="296.70" y1="647.50" x2="299.30" y2="647.50" stroke="#111" stroke-width="1.1"/>
<line x1="316.50" y1="661.26" x2="316.50" y2="675.08" stroke="#111" stroke-width="1.1"/>
<line x1="314.70" y1="661.50" x2="317.30" y2="661.50" stroke="#111" stroke-width="1.1"/>
<line x1="287.80" y1="638.50" x2="290.20" y2="638.50" stroke="#111" stroke-width="1"/>
<line x1="296.80" y1="653.50" x2="299.20" y2="653.50" stroke="#111" stroke-width="1"/>
<line x1="314.80" y1="675.50" x2="317.20" y2="675.50" stroke="#111" stroke-width="1"/>
<line x1="287.80" y1="638.50" x2="290.20" y2="638.50" stroke="#111" stroke-width="1"/>
<line x1="314.80" y1="655.50" x2="317.20" y2="655.50" stroke="#111" stroke-width="1"/>
<path d="M277.40,620.20 L280.00,615.60 L282.60,620.20 Z" fill="#ac0a34"/>
<path d="M286.40,635.84 L289.00,631.24 L291.60,635.84 Z" fill="#ac0a34"/>
<path d="M295.40,645.76 L298.00,641.16 L300.60,645.76 Z" fill="#ac0a34"/>
<path d="M313.40,654.14 L316.00,649.54 L318.60,654.14 Z" fill="#ac0a34"/>
<circle cx="280.00" cy="618.20" r="2.2" fill="#2d4e85"/>
<circle cx="289.00" cy="636.23" r="2.2" fill="#2d4e85"/>
<circle cx="298.00" cy="650.00" r="2.2" fill="#2d4e85"/>
<circle cx="316.00" cy="667.48" r="2.2" fill="#2d4e85"/>
<text x="0" y="0" font-size="7.70" text-anchor="middle" font-weight="normal" fill="#111" stroke="#111" stroke-width="0.36" transform="translate(316.00 642.92) scale(0.89 1)">*</text>
<text x="0" y="0" font-size="8.58" text-anchor="middle" font-weight="normal" fill="#111" stroke="#111" stroke-width="0.36" transform="translate(362.90 606.20) scale(0.89 1)">IL-4</text>
<line x1="342.00" y1="610.50" x2="383.80" y2="610.50" stroke="#111" stroke-width="1.3"/>
<line x1="338.50" y1="616.70" x2="338.50" y2="689.30" stroke="#111" stroke-width="1.2"/>
<line x1="336.00" y1="688.70" x2="338.80" y2="688.70" stroke="#111" stroke-width="0.9"/>
<line x1="337.00" y1="667.48" x2="338.80" y2="667.48" stroke="#111" stroke-width="0.9"/>
<line x1="337.00" y1="655.06" x2="338.80" y2="655.06" stroke="#111" stroke-width="0.9"/>
<line x1="337.00" y1="646.25" x2="338.80" y2="646.25" stroke="#111" stroke-width="0.9"/>
<line x1="337.00" y1="639.42" x2="338.80" y2="639.42" stroke="#111" stroke-width="0.9"/>
<line x1="337.00" y1="633.84" x2="338.80" y2="633.84" stroke="#111" stroke-width="0.9"/>
<line x1="337.00" y1="629.12" x2="338.80" y2="629.12" stroke="#111" stroke-width="0.9"/>
<line x1="337.00" y1="625.03" x2="338.80" y2="625.03" stroke="#111" stroke-width="0.9"/>
<line x1="337.00" y1="621.43" x2="338.80" y2="621.43" stroke="#111" stroke-width="0.9"/>
<line x1="336.00" y1="618.20" x2="338.80" y2="618.20" stroke="#111" stroke-width="0.9"/>
<line x1="338.80" y1="688.50" x2="386.50" y2="688.50" stroke="#111" stroke-width="1.2"/>
<line x1="338.50" y1="688.70" x2="338.50" y2="691.70" stroke="#111" stroke-width="1"/>
<line x1="353.50" y1="688.70" x2="353.50" y2="691.70" stroke="#111" stroke-width="1"/>
<line x1="368.50" y1="688.70" x2="368.50" y2="691.70" stroke="#111" stroke-width="1"/>
<line x1="383.50" y1="688.70" x2="383.50" y2="691.70" stroke="#111" stroke-width="1"/>
<line x1="346.30" y1="688.70" x2="346.30" y2="690.40" stroke="#111" stroke-width="0.8"/>
<line x1="361.30" y1="688.70" x2="361.30" y2="690.40" stroke="#111" stroke-width="0.8"/>
<line x1="376.30" y1="688.70" x2="376.30" y2="690.40" stroke="#111" stroke-width="0.8"/>
<text x="0" y="0" font-size="8.80" text-anchor="middle" font-weight="normal" fill="#111" stroke="#111" stroke-width="0.36" transform="translate(339.10 703.00) scale(0.89 1)">0</text>
<text x="0" y="0" font-size="8.80" text-anchor="middle" font-weight="normal" fill="#111" stroke="#111" stroke-width="0.36" transform="translate(354.10 703.00) scale(0.89 1)">25</text>
<text x="0" y="0" font-size="8.80" text-anchor="middle" font-weight="normal" fill="#111" stroke="#111" stroke-width="0.36" transform="translate(369.10 703.00) scale(0.89 1)">50</text>
<text x="0" y="0" font-size="8.80" text-anchor="middle" font-weight="normal" fill="#111" stroke="#111" stroke-width="0.36" transform="translate(384.10 703.00) scale(0.89 1)">75</text>
<line x1="338.80" y1="618.20" x2="374.80" y2="641.32" stroke="#ac0a34" stroke-width="1.7"/>
<line x1="338.80" y1="618.20" x2="374.80" y2="661.26" stroke="#264478" stroke-width="1.6"/>
<line x1="356.50" y1="628.69" x2="356.50" y2="638.82" stroke="#111" stroke-width="1.1"/>
<line x1="355.50" y1="628.50" x2="358.10" y2="628.50" stroke="#111" stroke-width="1.1"/>
<line x1="374.50" y1="632.84" x2="374.50" y2="644.98" stroke="#111" stroke-width="1.1"/>
<line x1="373.50" y1="632.50" x2="376.10" y2="632.50" stroke="#111" stroke-width="1.1"/>
<line x1="356.50" y1="637.64" x2="356.50" y2="664.56" stroke="#111" stroke-width="1.1"/>
<line x1="355.50" y1="637.50" x2="358.10" y2="637.50" stroke="#111" stroke-width="1.1"/>
<line x1="374.50" y1="654.06" x2="374.50" y2="670.36" stroke="#111" stroke-width="1.1"/>
<line x1="373.50" y1="654.50" x2="376.10" y2="654.50" stroke="#111" stroke-width="1.1"/>
<line x1="355.60" y1="664.50" x2="358.00" y2="664.50" stroke="#111" stroke-width="1"/>
<line x1="373.60" y1="670.50" x2="376.00" y2="670.50" stroke="#111" stroke-width="1"/>
<line x1="355.60" y1="638.50" x2="358.00" y2="638.50" stroke="#111" stroke-width="1"/>
<line x1="373.60" y1="644.50" x2="376.00" y2="644.50" stroke="#111" stroke-width="1"/>
<path d="M336.20,620.20 L338.80,615.60 L341.40,620.20 Z" fill="#ac0a34"/>
<path d="M345.20,634.98 L347.80,630.38 L350.40,634.98 Z" fill="#ac0a34"/>
<path d="M354.20,636.98 L356.80,632.38 L359.40,636.98 Z" fill="#ac0a34"/>
<path d="M372.20,643.32 L374.80,638.72 L377.40,643.32 Z" fill="#ac0a34"/>
<circle cx="338.80" cy="618.20" r="2.2" fill="#2d4e85"/>
<circle cx="347.80" cy="629.56" r="2.2" fill="#2d4e85"/>
<circle cx="356.80" cy="647.03" r="2.2" fill="#2d4e85"/>
<circle cx="374.80" cy="660.65" r="2.2" fill="#2d4e85"/>
<text x="0" y="0" font-size="7.70" text-anchor="middle" font-weight="normal" fill="#111" stroke="#111" stroke-width="0.36" transform="translate(374.80 631.50) scale(0.89 1)">*</text>
<text x="0" y="0" font-size="8.58" text-anchor="middle" font-weight="normal" fill="#111" stroke="#111" stroke-width="0.36" transform="translate(422.40 606.20) scale(0.89 1)">IL-10</text>
<line x1="401.50" y1="610.50" x2="443.30" y2="610.50" stroke="#111" stroke-width="1.3"/>
<line x1="397.50" y1="616.70" x2="397.50" y2="689.30" stroke="#111" stroke-width="1.2"/>
<line x1="394.70" y1="688.70" x2="397.50" y2="688.70" stroke="#111" stroke-width="0.9"/>
<line x1="395.70" y1="667.48" x2="397.50" y2="667.48" stroke="#111" stroke-width="0.9"/>
<line x1="395.70" y1="655.06" x2="397.50" y2="655.06" stroke="#111" stroke-width="0.9"/>
<line x1="395.70" y1="646.25" x2="397.50" y2="646.25" stroke="#111" stroke-width="0.9"/>
<line x1="395.70" y1="639.42" x2="397.50" y2="639.42" stroke="#111" stroke-width="0.9"/>
<line x1="395.70" y1="633.84" x2="397.50" y2="633.84" stroke="#111" stroke-width="0.9"/>
<line x1="395.70" y1="629.12" x2="397.50" y2="629.12" stroke="#111" stroke-width="0.9"/>
<line x1="395.70" y1="625.03" x2="397.50" y2="625.03" stroke="#111" stroke-width="0.9"/>
<line x1="395.70" y1="621.43" x2="397.50" y2="621.43" stroke="#111" stroke-width="0.9"/>
<line x1="394.70" y1="618.20" x2="397.50" y2="618.20" stroke="#111" stroke-width="0.9"/>
<line x1="397.50" y1="688.50" x2="445.20" y2="688.50" stroke="#111" stroke-width="1.2"/>
<line x1="397.50" y1="688.70" x2="397.50" y2="691.70" stroke="#111" stroke-width="1"/>
<line x1="412.50" y1="688.70" x2="412.50" y2="691.70" stroke="#111" stroke-width="1"/>
<line x1="427.50" y1="688.70" x2="427.50" y2="691.70" stroke="#111" stroke-width="1"/>
<line x1="442.50" y1="688.70" x2="442.50" y2="691.70" stroke="#111" stroke-width="1"/>
<line x1="405.00" y1="688.70" x2="405.00" y2="690.40" stroke="#111" stroke-width="0.8"/>
<line x1="420.00" y1="688.70" x2="420.00" y2="690.40" stroke="#111" stroke-width="0.8"/>
<line x1="435.00" y1="688.70" x2="435.00" y2="690.40" stroke="#111" stroke-width="0.8"/>
<text x="0" y="0" font-size="8.80" text-anchor="middle" font-weight="normal" fill="#111" stroke="#111" stroke-width="0.36" transform="translate(397.80 703.00) scale(0.89 1)">0</text>
<text x="0" y="0" font-size="8.80" text-anchor="middle" font-weight="normal" fill="#111" stroke="#111" stroke-width="0.36" transform="translate(412.80 703.00) scale(0.89 1)">25</text>
<text x="0" y="0" font-size="8.80" text-anchor="middle" font-weight="normal" fill="#111" stroke="#111" stroke-width="0.36" transform="translate(427.80 703.00) scale(0.89 1)">50</text>
<text x="0" y="0" font-size="8.80" text-anchor="middle" font-weight="normal" fill="#111" stroke="#111" stroke-width="0.36" transform="translate(442.80 703.00) scale(0.89 1)">75</text>
<line x1="397.50" y1="618.20" x2="433.50" y2="640.04" stroke="#ac0a34" stroke-width="1.7"/>
<line x1="397.50" y1="618.20" x2="433.50" y2="662.15" stroke="#264478" stroke-width="1.6"/>
<line x1="415.50" y1="626.60" x2="415.50" y2="638.52" stroke="#111" stroke-width="1.1"/>
<line x1="414.20" y1="626.50" x2="416.80" y2="626.50" stroke="#111" stroke-width="1.1"/>
<line x1="433.50" y1="635.95" x2="433.50" y2="643.34" stroke="#111" stroke-width="1.1"/>
<line x1="432.20" y1="635.50" x2="434.80" y2="635.50" stroke="#111" stroke-width="1.1"/>
<line x1="415.50" y1="642.65" x2="415.50" y2="649.82" stroke="#111" stroke-width="1.1"/>
<line x1="414.20" y1="642.50" x2="416.80" y2="642.50" stroke="#111" stroke-width="1.1"/>
<line x1="433.50" y1="659.44" x2="433.50" y2="664.56" stroke="#111" stroke-width="1.1"/>
<line x1="432.20" y1="659.50" x2="434.80" y2="659.50" stroke="#111" stroke-width="1.1"/>
<line x1="414.30" y1="649.50" x2="416.70" y2="649.50" stroke="#111" stroke-width="1"/>
<line x1="432.30" y1="664.50" x2="434.70" y2="664.50" stroke="#111" stroke-width="1"/>
<line x1="414.30" y1="638.50" x2="416.70" y2="638.50" stroke="#111" stroke-width="1"/>
<line x1="432.30" y1="643.50" x2="434.70" y2="643.50" stroke="#111" stroke-width="1"/>
<path d="M394.90,620.20 L397.50,615.60 L400.10,620.20 Z" fill="#ac0a34"/>
<path d="M403.90,625.68 L406.50,621.08 L409.10,625.68 Z" fill="#ac0a34"/>
<path d="M412.90,633.86 L415.50,629.26 L418.10,633.86 Z" fill="#ac0a34"/>
<path d="M430.90,642.04 L433.50,637.44 L436.10,642.04 Z" fill="#ac0a34"/>
<circle cx="397.50" cy="618.20" r="2.2" fill="#2d4e85"/>
<circle cx="406.50" cy="625.81" r="2.2" fill="#2d4e85"/>
<circle cx="415.50" cy="646.25" r="2.2" fill="#2d4e85"/>
<circle cx="433.50" cy="662.15" r="2.2" fill="#2d4e85"/>
<text x="0" y="0" font-size="7.70" text-anchor="middle" font-weight="normal" fill="#111" stroke="#111" stroke-width="0.36" transform="translate(433.50 632.62) scale(0.89 1)">*</text>
<text x="0" y="0" font-size="9.46" text-anchor="middle" font-weight="normal" fill="#111" stroke="#111" stroke-width="0.36" transform="translate(178.30 651.00) rotate(-90) scale(0.89 1)">% of mRNA</text>
<text x="0" y="0" font-size="9.46" text-anchor="middle" font-weight="normal" fill="#111" stroke="#111" stroke-width="0.36" transform="translate(188.00 651.00) rotate(-90) scale(0.89 1)">remaining</text>
<text x="0" y="0" font-size="10.23" text-anchor="middle" font-weight="normal" fill="#111" stroke="#111" stroke-width="0.36" transform="translate(332.30 716.50) scale(0.89 1)">Time (min.)</text>
<path d="M448.70,648.70 L452.00,643.00 L455.30,648.70 Z" fill="#ac0a34"/>
<circle cx="452" cy="657.3" r="3.3" fill="#2d4e85"/>
<text x="0" y="0" font-size="8.80" text-anchor="start" font-weight="normal" fill="#111" stroke="#111" stroke-width="0.36" transform="translate(459.40 649.20) scale(0.89 1)">Control</text>
<text x="0" y="0" font-size="8.80" text-anchor="start" font-weight="normal" fill="#111" stroke="#111" stroke-width="0.36" transform="translate(459.40 660.50) scale(0.89 1)">AMD3100</text>
</svg></body></html>
